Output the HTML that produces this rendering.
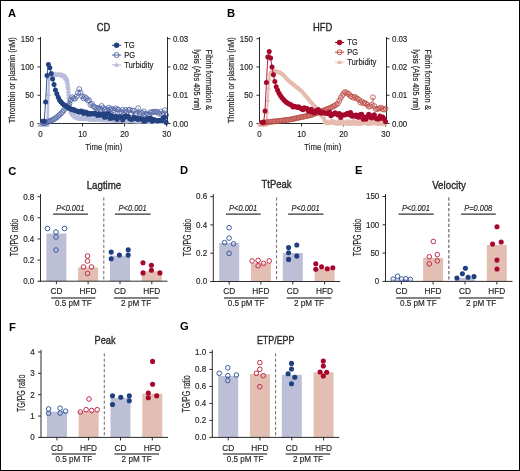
<!DOCTYPE html>
<html><head><meta charset="utf-8"><style>
html,body{margin:0;padding:0;background:#fff;}
body{width:520px;height:471px;overflow:hidden;font-family:"Liberation Sans",sans-serif;}
svg{display:block;will-change:transform;}
svg text{font-family:"Liberation Sans",sans-serif;}
</style></head><body>
<svg width="520" height="471" viewBox="0 0 520 471" font-family="Liberation Sans, sans-serif">
<rect x="0" y="0" width="520" height="471" fill="#fff"/>
<line x1="40.50" y1="37.00" x2="40.50" y2="124.00" stroke="#2b2b2b" stroke-width="1" />
<line x1="37.50" y1="123.50" x2="40.50" y2="123.50" stroke="#2b2b2b" stroke-width="1" />
<text x="34.00" y="126.70" font-size="9.48" text-anchor="end" fill="#262626" stroke="#262626" stroke-width="0.18" textLength="4.39" lengthAdjust="spacingAndGlyphs" >0</text>
<line x1="37.50" y1="95.23" x2="40.50" y2="95.23" stroke="#2b2b2b" stroke-width="1" />
<text x="34.00" y="98.43" font-size="9.48" text-anchor="end" fill="#262626" stroke="#262626" stroke-width="0.18" textLength="8.79" lengthAdjust="spacingAndGlyphs" >50</text>
<line x1="37.50" y1="66.96" x2="40.50" y2="66.96" stroke="#2b2b2b" stroke-width="1" />
<text x="34.00" y="70.16" font-size="9.48" text-anchor="end" fill="#262626" stroke="#262626" stroke-width="0.18" textLength="13.18" lengthAdjust="spacingAndGlyphs" >100</text>
<line x1="37.50" y1="38.69" x2="40.50" y2="38.69" stroke="#2b2b2b" stroke-width="1" />
<text x="34.00" y="41.89" font-size="9.48" text-anchor="end" fill="#262626" stroke="#262626" stroke-width="0.18" textLength="13.18" lengthAdjust="spacingAndGlyphs" >150</text>
<line x1="40.00" y1="123.50" x2="168.00" y2="123.50" stroke="#2b2b2b" stroke-width="1" />
<line x1="40.50" y1="123.50" x2="40.50" y2="126.50" stroke="#2b2b2b" stroke-width="1" />
<text x="40.50" y="137.20" font-size="9.48" text-anchor="middle" fill="#262626" stroke="#262626" stroke-width="0.18" textLength="4.39" lengthAdjust="spacingAndGlyphs" >0</text>
<line x1="82.55" y1="123.50" x2="82.55" y2="126.50" stroke="#2b2b2b" stroke-width="1" />
<text x="82.55" y="137.20" font-size="9.48" text-anchor="middle" fill="#262626" stroke="#262626" stroke-width="0.18" textLength="8.79" lengthAdjust="spacingAndGlyphs" >10</text>
<line x1="124.60" y1="123.50" x2="124.60" y2="126.50" stroke="#2b2b2b" stroke-width="1" />
<text x="124.60" y="137.20" font-size="9.48" text-anchor="middle" fill="#262626" stroke="#262626" stroke-width="0.18" textLength="8.79" lengthAdjust="spacingAndGlyphs" >20</text>
<line x1="166.65" y1="123.50" x2="166.65" y2="126.50" stroke="#2b2b2b" stroke-width="1" />
<text x="166.65" y="137.20" font-size="9.48" text-anchor="middle" fill="#262626" stroke="#262626" stroke-width="0.18" textLength="8.79" lengthAdjust="spacingAndGlyphs" >30</text>
<text x="103.80" y="149.90" font-size="9.90" text-anchor="middle" fill="#262626" stroke="#262626" stroke-width="0.18" textLength="37" lengthAdjust="spacingAndGlyphs" >Time (min)</text>
<line x1="167.50" y1="37.00" x2="167.50" y2="124.00" stroke="#2b2b2b" stroke-width="1" />
<line x1="167.50" y1="123.50" x2="170.50" y2="123.50" stroke="#2b2b2b" stroke-width="1" />
<text x="172.90" y="126.70" font-size="9.48" text-anchor="start" fill="#262626" stroke="#262626" stroke-width="0.18" textLength="15.38" lengthAdjust="spacingAndGlyphs" >0.00</text>
<line x1="167.50" y1="95.23" x2="170.50" y2="95.23" stroke="#2b2b2b" stroke-width="1" />
<text x="172.90" y="98.43" font-size="9.48" text-anchor="start" fill="#262626" stroke="#262626" stroke-width="0.18" textLength="15.38" lengthAdjust="spacingAndGlyphs" >0.01</text>
<line x1="167.50" y1="66.96" x2="170.50" y2="66.96" stroke="#2b2b2b" stroke-width="1" />
<text x="172.90" y="70.16" font-size="9.48" text-anchor="start" fill="#262626" stroke="#262626" stroke-width="0.18" textLength="15.38" lengthAdjust="spacingAndGlyphs" >0.02</text>
<line x1="167.50" y1="38.69" x2="170.50" y2="38.69" stroke="#2b2b2b" stroke-width="1" />
<text x="172.90" y="41.89" font-size="9.48" text-anchor="start" fill="#262626" stroke="#262626" stroke-width="0.18" textLength="15.38" lengthAdjust="spacingAndGlyphs" >0.03</text>
<text x="8.00" y="16.50" font-size="11.20" text-anchor="start" fill="#000" font-weight="bold" >A</text>
<text x="103.60" y="30.70" font-size="10.72" text-anchor="middle" fill="#262626" stroke="#262626" stroke-width="0.18" textLength="13.58" lengthAdjust="spacingAndGlyphs" style="stroke-width:0.32">CD</text>
<text x="15.20" y="80.30" font-size="9.72" text-anchor="middle" fill="#262626" stroke="#262626" stroke-width="0.18" textLength="86" lengthAdjust="spacingAndGlyphs" transform="rotate(-90 15.20 80.30)" >Thrombin or plasmin (nM)</text>
<text x="206.30" y="79.80" font-size="9.24" text-anchor="middle" fill="#262626" stroke="#262626" stroke-width="0.18" textLength="60.5" lengthAdjust="spacingAndGlyphs" transform="rotate(90 206.30 79.80)" >Fibrin formation &amp;</text>
<path d="M40.00,124.60 L40.70,124.58 L41.40,124.56 L42.10,124.54 L42.80,124.52 L43.50,124.50 L44.20,124.48 L44.91,124.46 L45.61,124.44 L46.31,124.42 L47.01,124.40 L47.71,118.00 L48.41,94.00 L49.11,77.50 L49.81,75.00 L50.51,74.80 L51.21,74.60 L51.91,74.60 L52.62,74.60 L53.32,74.60 L54.02,74.60 L54.72,74.62 L55.42,74.65 L56.12,74.67 L56.82,74.70 L57.52,74.72 L58.22,74.75 L58.92,74.77 L59.62,74.80 L60.32,74.90 L61.03,75.00 L61.73,75.10 L62.43,75.20 L63.13,75.50 L63.83,75.80 L64.53,76.20 L65.23,76.60 L65.51,76.98 L65.79,77.36 L66.07,77.74 L66.35,78.12 L66.63,78.50 L66.91,79.90 L67.19,81.30 L67.47,83.20 L67.75,85.60 L68.03,88.00 L68.31,90.80 L68.59,93.60 L68.87,96.30 L69.15,98.90 L69.43,101.50 L69.72,103.50 L70.00,105.50 L70.28,107.20 L70.56,108.60 L70.84,110.00 L71.12,110.60 L71.40,111.20 L71.68,111.80 L71.96,112.40 L72.24,113.00 L72.52,113.40 L72.80,113.80 L73.08,114.20 L73.36,114.60 L73.64,115.00 L73.92,115.30 L74.62,116.05 L75.32,116.66 L76.02,117.06 L76.72,117.35 L77.42,117.46 L78.13,117.41 L78.83,118.50 L79.53,117.63 L80.23,118.27 L80.93,118.79 L81.63,117.85 L82.33,118.47 L83.03,118.59 L83.73,117.94 L84.43,118.39 L85.13,118.83 L85.83,118.57 L86.54,118.95 L87.24,118.31 L87.94,118.45 L88.64,118.35 L89.34,118.87 L90.04,119.41 L90.74,119.06 L91.44,119.33 L92.14,118.90 L92.84,119.38 L93.54,118.66 L94.24,118.93 L94.95,119.44 L95.65,119.54 L96.35,119.22 L97.05,118.85 L97.75,119.10 L98.45,119.06 L99.15,119.18 L99.85,119.85 L100.55,119.15 L101.25,120.00 L101.95,120.03 L102.65,119.07 L103.36,119.49 L104.06,119.66 L104.76,119.13 L105.46,119.65 L106.16,120.26 L106.86,119.33 L107.56,119.95 L108.26,119.41 L108.96,119.99 L109.66,120.40 L110.36,119.61 L111.06,119.41 L111.77,119.53 L112.47,120.11 L113.17,119.51 L113.87,119.63 L114.57,120.15 L115.27,120.70 L115.97,120.13 L116.67,120.13 L117.37,120.45 L118.07,119.83 L118.77,120.45 L119.47,119.99 L120.18,120.55 L120.88,121.00 L121.58,119.95 L122.28,120.58 L122.98,120.68 L123.68,120.16 L124.38,120.33 L125.08,121.21 L125.78,121.23 L126.48,120.20 L127.18,120.91 L127.88,121.22 L128.59,120.38 L129.29,120.84 L129.99,120.18 L130.69,120.58 L131.39,120.96 L132.09,120.88 L132.79,121.12 L133.49,120.31 L134.19,120.63 L134.89,121.27 L135.59,120.95 L136.29,120.80 L137.00,120.76 L137.70,121.47 L138.40,121.00 L139.10,120.34 L139.80,121.30 L140.50,120.75 L141.20,120.89 L141.90,120.64 L142.60,120.93 L143.30,120.80 L144.00,120.53 L144.70,121.20 L145.41,120.58 L146.11,121.41 L146.81,120.52 L147.51,121.44 L148.21,121.49 L148.91,121.13 L149.61,121.40 L150.31,120.86 L151.01,121.46 L151.71,121.10 L152.41,120.88 L153.11,121.78 L153.82,121.12 L154.52,121.10 L155.22,121.70 L155.92,121.12 L156.62,121.50 L157.32,120.92 L158.02,121.74 L158.72,121.05 L159.42,120.82 L160.12,121.94 L160.82,120.99 L161.52,121.94 L162.23,122.00 L162.93,121.56 L163.63,120.86 L164.33,120.93 L165.03,121.13 L165.73,121.36" fill="none" stroke="#b8bddb" stroke-width="2.4" stroke-linejoin="round" stroke-linecap="round"/>
<path d="M40.00,121.80 L42.80,126.70 L37.20,126.70Z" fill="#b8bddb"/>
<path d="M40.70,121.78 L43.50,126.68 L37.90,126.68Z" fill="#b8bddb"/>
<path d="M41.40,121.76 L44.20,126.66 L38.60,126.66Z" fill="#b8bddb"/>
<path d="M42.10,121.74 L44.90,126.64 L39.30,126.64Z" fill="#b8bddb"/>
<path d="M42.80,121.72 L45.60,126.62 L40.00,126.62Z" fill="#b8bddb"/>
<path d="M43.50,121.70 L46.30,126.60 L40.70,126.60Z" fill="#b8bddb"/>
<path d="M44.20,121.68 L47.00,126.58 L41.41,126.58Z" fill="#b8bddb"/>
<path d="M44.91,121.66 L47.71,126.56 L42.11,126.56Z" fill="#b8bddb"/>
<path d="M45.61,121.64 L48.41,126.54 L42.81,126.54Z" fill="#b8bddb"/>
<path d="M46.31,121.62 L49.11,126.52 L43.51,126.52Z" fill="#b8bddb"/>
<path d="M47.01,121.60 L49.81,126.50 L44.21,126.50Z" fill="#b8bddb"/>
<path d="M47.71,115.20 L50.51,120.10 L44.91,120.10Z" fill="#b8bddb"/>
<path d="M48.41,91.20 L51.21,96.10 L45.61,96.10Z" fill="#b8bddb"/>
<path d="M49.11,74.70 L51.91,79.60 L46.31,79.60Z" fill="#b8bddb"/>
<path d="M49.81,72.20 L52.61,77.10 L47.01,77.10Z" fill="#b8bddb"/>
<path d="M50.51,72.00 L53.31,76.90 L47.71,76.90Z" fill="#b8bddb"/>
<path d="M51.21,71.80 L54.01,76.70 L48.41,76.70Z" fill="#b8bddb"/>
<path d="M51.91,71.80 L54.71,76.70 L49.11,76.70Z" fill="#b8bddb"/>
<path d="M52.62,71.80 L55.41,76.70 L49.82,76.70Z" fill="#b8bddb"/>
<path d="M53.32,71.80 L56.12,76.70 L50.52,76.70Z" fill="#b8bddb"/>
<path d="M54.02,71.80 L56.82,76.70 L51.22,76.70Z" fill="#b8bddb"/>
<path d="M54.72,71.83 L57.52,76.72 L51.92,76.72Z" fill="#b8bddb"/>
<path d="M55.42,71.85 L58.22,76.75 L52.62,76.75Z" fill="#b8bddb"/>
<path d="M56.12,71.88 L58.92,76.77 L53.32,76.77Z" fill="#b8bddb"/>
<path d="M56.82,71.90 L59.62,76.80 L54.02,76.80Z" fill="#b8bddb"/>
<path d="M57.52,71.92 L60.32,76.82 L54.72,76.82Z" fill="#b8bddb"/>
<path d="M58.22,71.95 L61.02,76.85 L55.42,76.85Z" fill="#b8bddb"/>
<path d="M58.92,71.97 L61.72,76.87 L56.12,76.87Z" fill="#b8bddb"/>
<path d="M59.62,72.00 L62.42,76.90 L56.82,76.90Z" fill="#b8bddb"/>
<path d="M60.32,72.10 L63.12,77.00 L57.52,77.00Z" fill="#b8bddb"/>
<path d="M61.03,72.20 L63.83,77.10 L58.23,77.10Z" fill="#b8bddb"/>
<path d="M61.73,72.30 L64.53,77.20 L58.93,77.20Z" fill="#b8bddb"/>
<path d="M62.43,72.40 L65.23,77.30 L59.63,77.30Z" fill="#b8bddb"/>
<path d="M63.13,72.70 L65.93,77.60 L60.33,77.60Z" fill="#b8bddb"/>
<path d="M63.83,73.00 L66.63,77.90 L61.03,77.90Z" fill="#b8bddb"/>
<path d="M64.53,73.40 L67.33,78.30 L61.73,78.30Z" fill="#b8bddb"/>
<path d="M65.23,73.80 L68.03,78.70 L62.43,78.70Z" fill="#b8bddb"/>
<path d="M65.51,74.18 L68.31,79.08 L62.71,79.08Z" fill="#b8bddb"/>
<path d="M65.79,74.56 L68.59,79.46 L62.99,79.46Z" fill="#b8bddb"/>
<path d="M66.07,74.94 L68.87,79.84 L63.27,79.84Z" fill="#b8bddb"/>
<path d="M66.35,75.32 L69.15,80.22 L63.55,80.22Z" fill="#b8bddb"/>
<path d="M66.63,75.70 L69.43,80.60 L63.83,80.60Z" fill="#b8bddb"/>
<path d="M66.91,77.10 L69.71,82.00 L64.11,82.00Z" fill="#b8bddb"/>
<path d="M67.19,78.50 L69.99,83.40 L64.39,83.40Z" fill="#b8bddb"/>
<path d="M67.47,80.40 L70.27,85.30 L64.67,85.30Z" fill="#b8bddb"/>
<path d="M67.75,82.80 L70.55,87.70 L64.95,87.70Z" fill="#b8bddb"/>
<path d="M68.03,85.20 L70.83,90.10 L65.23,90.10Z" fill="#b8bddb"/>
<path d="M68.31,88.00 L71.11,92.90 L65.51,92.90Z" fill="#b8bddb"/>
<path d="M68.59,90.80 L71.39,95.70 L65.79,95.70Z" fill="#b8bddb"/>
<path d="M68.87,93.50 L71.67,98.40 L66.07,98.40Z" fill="#b8bddb"/>
<path d="M69.15,96.10 L71.95,101.00 L66.35,101.00Z" fill="#b8bddb"/>
<path d="M69.43,98.70 L72.23,103.60 L66.63,103.60Z" fill="#b8bddb"/>
<path d="M69.72,100.70 L72.52,105.60 L66.92,105.60Z" fill="#b8bddb"/>
<path d="M70.00,102.70 L72.80,107.60 L67.20,107.60Z" fill="#b8bddb"/>
<path d="M70.28,104.40 L73.08,109.30 L67.48,109.30Z" fill="#b8bddb"/>
<path d="M70.56,105.80 L73.36,110.70 L67.76,110.70Z" fill="#b8bddb"/>
<path d="M70.84,107.20 L73.64,112.10 L68.04,112.10Z" fill="#b8bddb"/>
<path d="M71.12,107.80 L73.92,112.70 L68.32,112.70Z" fill="#b8bddb"/>
<path d="M71.40,108.40 L74.20,113.30 L68.60,113.30Z" fill="#b8bddb"/>
<path d="M71.68,109.00 L74.48,113.90 L68.88,113.90Z" fill="#b8bddb"/>
<path d="M71.96,109.60 L74.76,114.50 L69.16,114.50Z" fill="#b8bddb"/>
<path d="M72.24,110.20 L75.04,115.10 L69.44,115.10Z" fill="#b8bddb"/>
<path d="M72.52,110.60 L75.32,115.50 L69.72,115.50Z" fill="#b8bddb"/>
<path d="M72.80,111.00 L75.60,115.90 L70.00,115.90Z" fill="#b8bddb"/>
<path d="M73.08,111.40 L75.88,116.30 L70.28,116.30Z" fill="#b8bddb"/>
<path d="M73.36,111.80 L76.16,116.70 L70.56,116.70Z" fill="#b8bddb"/>
<path d="M73.64,112.20 L76.44,117.10 L70.84,117.10Z" fill="#b8bddb"/>
<path d="M73.92,112.50 L76.72,117.40 L71.12,117.40Z" fill="#b8bddb"/>
<path d="M74.62,113.25 L77.42,118.15 L71.82,118.15Z" fill="#b8bddb"/>
<path d="M75.32,113.86 L78.12,118.76 L72.52,118.76Z" fill="#b8bddb"/>
<path d="M76.02,114.26 L78.82,119.16 L73.22,119.16Z" fill="#b8bddb"/>
<path d="M76.72,114.55 L79.52,119.45 L73.92,119.45Z" fill="#b8bddb"/>
<path d="M77.42,114.66 L80.22,119.56 L74.62,119.56Z" fill="#b8bddb"/>
<path d="M78.13,114.61 L80.93,119.51 L75.33,119.51Z" fill="#b8bddb"/>
<path d="M78.83,115.70 L81.63,120.60 L76.03,120.60Z" fill="#b8bddb"/>
<path d="M79.53,114.83 L82.33,119.73 L76.73,119.73Z" fill="#b8bddb"/>
<path d="M80.23,115.47 L83.03,120.37 L77.43,120.37Z" fill="#b8bddb"/>
<path d="M80.93,115.99 L83.73,120.89 L78.13,120.89Z" fill="#b8bddb"/>
<path d="M81.63,115.05 L84.43,119.95 L78.83,119.95Z" fill="#b8bddb"/>
<path d="M82.33,115.67 L85.13,120.57 L79.53,120.57Z" fill="#b8bddb"/>
<path d="M83.03,115.79 L85.83,120.69 L80.23,120.69Z" fill="#b8bddb"/>
<path d="M83.73,115.14 L86.53,120.04 L80.93,120.04Z" fill="#b8bddb"/>
<path d="M84.43,115.59 L87.23,120.49 L81.63,120.49Z" fill="#b8bddb"/>
<path d="M85.13,116.03 L87.93,120.93 L82.33,120.93Z" fill="#b8bddb"/>
<path d="M85.83,115.77 L88.63,120.67 L83.03,120.67Z" fill="#b8bddb"/>
<path d="M86.54,116.15 L89.34,121.05 L83.74,121.05Z" fill="#b8bddb"/>
<path d="M87.24,115.51 L90.04,120.41 L84.44,120.41Z" fill="#b8bddb"/>
<path d="M87.94,115.65 L90.74,120.55 L85.14,120.55Z" fill="#b8bddb"/>
<path d="M88.64,115.55 L91.44,120.45 L85.84,120.45Z" fill="#b8bddb"/>
<path d="M89.34,116.07 L92.14,120.97 L86.54,120.97Z" fill="#b8bddb"/>
<path d="M90.04,116.61 L92.84,121.51 L87.24,121.51Z" fill="#b8bddb"/>
<path d="M90.74,116.26 L93.54,121.16 L87.94,121.16Z" fill="#b8bddb"/>
<path d="M91.44,116.53 L94.24,121.43 L88.64,121.43Z" fill="#b8bddb"/>
<path d="M92.14,116.10 L94.94,121.00 L89.34,121.00Z" fill="#b8bddb"/>
<path d="M92.84,116.58 L95.64,121.48 L90.04,121.48Z" fill="#b8bddb"/>
<path d="M93.54,115.86 L96.34,120.76 L90.74,120.76Z" fill="#b8bddb"/>
<path d="M94.24,116.13 L97.04,121.03 L91.44,121.03Z" fill="#b8bddb"/>
<path d="M94.95,116.64 L97.75,121.54 L92.15,121.54Z" fill="#b8bddb"/>
<path d="M95.65,116.74 L98.45,121.64 L92.85,121.64Z" fill="#b8bddb"/>
<path d="M96.35,116.42 L99.15,121.32 L93.55,121.32Z" fill="#b8bddb"/>
<path d="M97.05,116.05 L99.85,120.95 L94.25,120.95Z" fill="#b8bddb"/>
<path d="M97.75,116.30 L100.55,121.20 L94.95,121.20Z" fill="#b8bddb"/>
<path d="M98.45,116.26 L101.25,121.16 L95.65,121.16Z" fill="#b8bddb"/>
<path d="M99.15,116.38 L101.95,121.28 L96.35,121.28Z" fill="#b8bddb"/>
<path d="M99.85,117.05 L102.65,121.95 L97.05,121.95Z" fill="#b8bddb"/>
<path d="M100.55,116.35 L103.35,121.25 L97.75,121.25Z" fill="#b8bddb"/>
<path d="M101.25,117.20 L104.05,122.10 L98.45,122.10Z" fill="#b8bddb"/>
<path d="M101.95,117.23 L104.75,122.13 L99.15,122.13Z" fill="#b8bddb"/>
<path d="M102.65,116.27 L105.45,121.17 L99.85,121.17Z" fill="#b8bddb"/>
<path d="M103.36,116.69 L106.16,121.59 L100.56,121.59Z" fill="#b8bddb"/>
<path d="M104.06,116.86 L106.86,121.76 L101.26,121.76Z" fill="#b8bddb"/>
<path d="M104.76,116.33 L107.56,121.23 L101.96,121.23Z" fill="#b8bddb"/>
<path d="M105.46,116.85 L108.26,121.75 L102.66,121.75Z" fill="#b8bddb"/>
<path d="M106.16,117.46 L108.96,122.36 L103.36,122.36Z" fill="#b8bddb"/>
<path d="M106.86,116.53 L109.66,121.43 L104.06,121.43Z" fill="#b8bddb"/>
<path d="M107.56,117.15 L110.36,122.05 L104.76,122.05Z" fill="#b8bddb"/>
<path d="M108.26,116.61 L111.06,121.51 L105.46,121.51Z" fill="#b8bddb"/>
<path d="M108.96,117.19 L111.76,122.09 L106.16,122.09Z" fill="#b8bddb"/>
<path d="M109.66,117.60 L112.46,122.50 L106.86,122.50Z" fill="#b8bddb"/>
<path d="M110.36,116.81 L113.16,121.71 L107.56,121.71Z" fill="#b8bddb"/>
<path d="M111.06,116.61 L113.86,121.51 L108.26,121.51Z" fill="#b8bddb"/>
<path d="M111.77,116.73 L114.57,121.63 L108.97,121.63Z" fill="#b8bddb"/>
<path d="M112.47,117.31 L115.27,122.21 L109.67,122.21Z" fill="#b8bddb"/>
<path d="M113.17,116.71 L115.97,121.61 L110.37,121.61Z" fill="#b8bddb"/>
<path d="M113.87,116.83 L116.67,121.73 L111.07,121.73Z" fill="#b8bddb"/>
<path d="M114.57,117.35 L117.37,122.25 L111.77,122.25Z" fill="#b8bddb"/>
<path d="M115.27,117.90 L118.07,122.80 L112.47,122.80Z" fill="#b8bddb"/>
<path d="M115.97,117.33 L118.77,122.23 L113.17,122.23Z" fill="#b8bddb"/>
<path d="M116.67,117.33 L119.47,122.23 L113.87,122.23Z" fill="#b8bddb"/>
<path d="M117.37,117.65 L120.17,122.55 L114.57,122.55Z" fill="#b8bddb"/>
<path d="M118.07,117.03 L120.87,121.93 L115.27,121.93Z" fill="#b8bddb"/>
<path d="M118.77,117.65 L121.57,122.55 L115.97,122.55Z" fill="#b8bddb"/>
<path d="M119.47,117.19 L122.27,122.09 L116.67,122.09Z" fill="#b8bddb"/>
<path d="M120.18,117.75 L122.98,122.65 L117.38,122.65Z" fill="#b8bddb"/>
<path d="M120.88,118.20 L123.68,123.10 L118.08,123.10Z" fill="#b8bddb"/>
<path d="M121.58,117.15 L124.38,122.05 L118.78,122.05Z" fill="#b8bddb"/>
<path d="M122.28,117.78 L125.08,122.68 L119.48,122.68Z" fill="#b8bddb"/>
<path d="M122.98,117.88 L125.78,122.78 L120.18,122.78Z" fill="#b8bddb"/>
<path d="M123.68,117.36 L126.48,122.26 L120.88,122.26Z" fill="#b8bddb"/>
<path d="M124.38,117.53 L127.18,122.43 L121.58,122.43Z" fill="#b8bddb"/>
<path d="M125.08,118.41 L127.88,123.31 L122.28,123.31Z" fill="#b8bddb"/>
<path d="M125.78,118.43 L128.58,123.33 L122.98,123.33Z" fill="#b8bddb"/>
<path d="M126.48,117.40 L129.28,122.30 L123.68,122.30Z" fill="#b8bddb"/>
<path d="M127.18,118.11 L129.98,123.01 L124.38,123.01Z" fill="#b8bddb"/>
<path d="M127.88,118.42 L130.68,123.32 L125.08,123.32Z" fill="#b8bddb"/>
<path d="M128.59,117.58 L131.39,122.48 L125.79,122.48Z" fill="#b8bddb"/>
<path d="M129.29,118.04 L132.09,122.94 L126.49,122.94Z" fill="#b8bddb"/>
<path d="M129.99,117.38 L132.79,122.28 L127.19,122.28Z" fill="#b8bddb"/>
<path d="M130.69,117.78 L133.49,122.68 L127.89,122.68Z" fill="#b8bddb"/>
<path d="M131.39,118.16 L134.19,123.06 L128.59,123.06Z" fill="#b8bddb"/>
<path d="M132.09,118.08 L134.89,122.98 L129.29,122.98Z" fill="#b8bddb"/>
<path d="M132.79,118.32 L135.59,123.22 L129.99,123.22Z" fill="#b8bddb"/>
<path d="M133.49,117.51 L136.29,122.41 L130.69,122.41Z" fill="#b8bddb"/>
<path d="M134.19,117.83 L136.99,122.73 L131.39,122.73Z" fill="#b8bddb"/>
<path d="M134.89,118.47 L137.69,123.37 L132.09,123.37Z" fill="#b8bddb"/>
<path d="M135.59,118.15 L138.39,123.05 L132.79,123.05Z" fill="#b8bddb"/>
<path d="M136.29,118.00 L139.09,122.90 L133.49,122.90Z" fill="#b8bddb"/>
<path d="M137.00,117.96 L139.80,122.86 L134.20,122.86Z" fill="#b8bddb"/>
<path d="M137.70,118.67 L140.50,123.57 L134.90,123.57Z" fill="#b8bddb"/>
<path d="M138.40,118.20 L141.20,123.10 L135.60,123.10Z" fill="#b8bddb"/>
<path d="M139.10,117.54 L141.90,122.44 L136.30,122.44Z" fill="#b8bddb"/>
<path d="M139.80,118.50 L142.60,123.40 L137.00,123.40Z" fill="#b8bddb"/>
<path d="M140.50,117.95 L143.30,122.85 L137.70,122.85Z" fill="#b8bddb"/>
<path d="M141.20,118.09 L144.00,122.99 L138.40,122.99Z" fill="#b8bddb"/>
<path d="M141.90,117.84 L144.70,122.74 L139.10,122.74Z" fill="#b8bddb"/>
<path d="M142.60,118.13 L145.40,123.03 L139.80,123.03Z" fill="#b8bddb"/>
<path d="M143.30,118.00 L146.10,122.90 L140.50,122.90Z" fill="#b8bddb"/>
<path d="M144.00,117.73 L146.80,122.63 L141.20,122.63Z" fill="#b8bddb"/>
<path d="M144.70,118.40 L147.50,123.30 L141.90,123.30Z" fill="#b8bddb"/>
<path d="M145.41,117.78 L148.21,122.68 L142.61,122.68Z" fill="#b8bddb"/>
<path d="M146.11,118.61 L148.91,123.51 L143.31,123.51Z" fill="#b8bddb"/>
<path d="M146.81,117.72 L149.61,122.62 L144.01,122.62Z" fill="#b8bddb"/>
<path d="M147.51,118.64 L150.31,123.54 L144.71,123.54Z" fill="#b8bddb"/>
<path d="M148.21,118.69 L151.01,123.59 L145.41,123.59Z" fill="#b8bddb"/>
<path d="M148.91,118.33 L151.71,123.23 L146.11,123.23Z" fill="#b8bddb"/>
<path d="M149.61,118.60 L152.41,123.50 L146.81,123.50Z" fill="#b8bddb"/>
<path d="M150.31,118.06 L153.11,122.96 L147.51,122.96Z" fill="#b8bddb"/>
<path d="M151.01,118.66 L153.81,123.56 L148.21,123.56Z" fill="#b8bddb"/>
<path d="M151.71,118.30 L154.51,123.20 L148.91,123.20Z" fill="#b8bddb"/>
<path d="M152.41,118.08 L155.21,122.98 L149.61,122.98Z" fill="#b8bddb"/>
<path d="M153.11,118.98 L155.91,123.88 L150.31,123.88Z" fill="#b8bddb"/>
<path d="M153.82,118.32 L156.62,123.22 L151.02,123.22Z" fill="#b8bddb"/>
<path d="M154.52,118.30 L157.32,123.20 L151.72,123.20Z" fill="#b8bddb"/>
<path d="M155.22,118.90 L158.02,123.80 L152.42,123.80Z" fill="#b8bddb"/>
<path d="M155.92,118.32 L158.72,123.22 L153.12,123.22Z" fill="#b8bddb"/>
<path d="M156.62,118.70 L159.42,123.60 L153.82,123.60Z" fill="#b8bddb"/>
<path d="M157.32,118.12 L160.12,123.02 L154.52,123.02Z" fill="#b8bddb"/>
<path d="M158.02,118.94 L160.82,123.84 L155.22,123.84Z" fill="#b8bddb"/>
<path d="M158.72,118.25 L161.52,123.15 L155.92,123.15Z" fill="#b8bddb"/>
<path d="M159.42,118.02 L162.22,122.92 L156.62,122.92Z" fill="#b8bddb"/>
<path d="M160.12,119.14 L162.92,124.04 L157.32,124.04Z" fill="#b8bddb"/>
<path d="M160.82,118.19 L163.62,123.09 L158.02,123.09Z" fill="#b8bddb"/>
<path d="M161.52,119.14 L164.32,124.04 L158.72,124.04Z" fill="#b8bddb"/>
<path d="M162.23,119.20 L165.03,124.10 L159.43,124.10Z" fill="#b8bddb"/>
<path d="M162.93,118.76 L165.73,123.66 L160.13,123.66Z" fill="#b8bddb"/>
<path d="M163.63,118.06 L166.43,122.96 L160.83,122.96Z" fill="#b8bddb"/>
<path d="M164.33,118.13 L167.13,123.03 L161.53,123.03Z" fill="#b8bddb"/>
<path d="M165.03,118.33 L167.83,123.23 L162.23,123.23Z" fill="#b8bddb"/>
<path d="M165.73,118.56 L168.53,123.46 L162.93,123.46Z" fill="#b8bddb"/>
<path d="M42.80,123.23 L44.20,123.20 L45.61,122.80 L47.01,122.30 L48.41,121.80 L49.81,121.20 L51.21,120.60 L52.62,119.90 L54.02,119.20 L55.42,118.25 L56.82,117.30 L58.22,116.05 L59.62,114.80 L61.03,113.40 L62.43,112.00 L63.83,110.30 L65.23,108.60 L66.63,107.00 L68.03,105.50 L69.44,103.50 L70.84,100.00 L72.24,97.20 L73.64,98.40 L75.04,98.60 L76.44,96.50 L77.84,92.90 L79.25,89.10 L80.65,92.70 L82.05,96.30 L83.45,98.50 L84.85,97.00 L86.25,98.20 L87.66,100.40 L89.06,100.20 L90.46,104.80 L91.86,103.80 L93.26,106.27 L94.66,107.12 L96.07,107.72 L97.47,108.56 L98.87,108.07 L100.27,109.04 L101.67,105.93 L103.07,107.87 L104.48,109.96 L105.88,109.13 L107.28,110.36 L108.68,107.65 L110.08,109.28 L111.48,108.64 L112.89,109.97 L114.29,110.28 L115.69,108.35 L117.09,109.32 L118.49,109.72 L119.89,112.30 L121.30,111.89 L122.70,109.75 L124.10,112.33 L125.50,109.93 L126.90,111.85 L128.31,110.08 L129.71,109.71 L131.11,113.11 L132.51,110.70 L133.91,110.82 L135.31,113.83 L136.71,113.52 L138.12,108.20 L139.52,114.03 L140.92,112.51 L142.32,113.12 L143.72,111.40 L145.12,114.28 L146.53,113.40 L147.93,114.53 L149.33,114.34 L150.73,112.16 L152.13,112.47 L153.54,111.81 L154.94,111.81 L156.34,111.59 L157.74,112.57 L159.14,113.79 L160.54,111.59 L161.94,114.24 L163.35,113.02 L164.75,110.20 L166.15,115.01" fill="none" stroke="#5064a3" stroke-width="0.5"/>
<circle cx="42.80" cy="123.23" r="2.45" fill="none" stroke="#5064a3" stroke-width="0.8"/>
<circle cx="44.20" cy="123.20" r="2.45" fill="none" stroke="#5064a3" stroke-width="0.8"/>
<circle cx="45.61" cy="122.80" r="2.45" fill="none" stroke="#5064a3" stroke-width="0.8"/>
<circle cx="47.01" cy="122.30" r="2.45" fill="none" stroke="#5064a3" stroke-width="0.8"/>
<circle cx="48.41" cy="121.80" r="2.45" fill="none" stroke="#5064a3" stroke-width="0.8"/>
<circle cx="49.81" cy="121.20" r="2.45" fill="none" stroke="#5064a3" stroke-width="0.8"/>
<circle cx="51.21" cy="120.60" r="2.45" fill="none" stroke="#5064a3" stroke-width="0.8"/>
<circle cx="52.62" cy="119.90" r="2.45" fill="none" stroke="#5064a3" stroke-width="0.8"/>
<circle cx="54.02" cy="119.20" r="2.45" fill="none" stroke="#5064a3" stroke-width="0.8"/>
<circle cx="55.42" cy="118.25" r="2.45" fill="none" stroke="#5064a3" stroke-width="0.8"/>
<circle cx="56.82" cy="117.30" r="2.45" fill="none" stroke="#5064a3" stroke-width="0.8"/>
<circle cx="58.22" cy="116.05" r="2.45" fill="none" stroke="#5064a3" stroke-width="0.8"/>
<circle cx="59.62" cy="114.80" r="2.45" fill="none" stroke="#5064a3" stroke-width="0.8"/>
<circle cx="61.03" cy="113.40" r="2.45" fill="none" stroke="#5064a3" stroke-width="0.8"/>
<circle cx="62.43" cy="112.00" r="2.45" fill="none" stroke="#5064a3" stroke-width="0.8"/>
<circle cx="63.83" cy="110.30" r="2.45" fill="none" stroke="#5064a3" stroke-width="0.8"/>
<circle cx="65.23" cy="108.60" r="2.45" fill="none" stroke="#5064a3" stroke-width="0.8"/>
<circle cx="66.63" cy="107.00" r="2.45" fill="none" stroke="#5064a3" stroke-width="0.8"/>
<circle cx="68.03" cy="105.50" r="2.45" fill="none" stroke="#5064a3" stroke-width="0.8"/>
<circle cx="69.44" cy="103.50" r="2.45" fill="none" stroke="#5064a3" stroke-width="0.8"/>
<circle cx="70.84" cy="100.00" r="2.45" fill="none" stroke="#5064a3" stroke-width="0.8"/>
<circle cx="72.24" cy="97.20" r="2.45" fill="none" stroke="#5064a3" stroke-width="0.8"/>
<circle cx="73.64" cy="98.40" r="2.45" fill="none" stroke="#5064a3" stroke-width="0.8"/>
<circle cx="75.04" cy="98.60" r="2.45" fill="none" stroke="#5064a3" stroke-width="0.8"/>
<circle cx="76.44" cy="96.50" r="2.45" fill="none" stroke="#5064a3" stroke-width="0.8"/>
<circle cx="77.84" cy="92.90" r="2.45" fill="none" stroke="#5064a3" stroke-width="0.8"/>
<circle cx="79.25" cy="89.10" r="2.45" fill="none" stroke="#5064a3" stroke-width="0.8"/>
<circle cx="80.65" cy="92.70" r="2.45" fill="none" stroke="#5064a3" stroke-width="0.8"/>
<circle cx="82.05" cy="96.30" r="2.45" fill="none" stroke="#5064a3" stroke-width="0.8"/>
<circle cx="83.45" cy="98.50" r="2.45" fill="none" stroke="#5064a3" stroke-width="0.8"/>
<circle cx="84.85" cy="97.00" r="2.45" fill="none" stroke="#5064a3" stroke-width="0.8"/>
<circle cx="86.25" cy="98.20" r="2.45" fill="none" stroke="#5064a3" stroke-width="0.8"/>
<circle cx="87.66" cy="100.40" r="2.45" fill="none" stroke="#5064a3" stroke-width="0.8"/>
<circle cx="89.06" cy="100.20" r="2.45" fill="none" stroke="#5064a3" stroke-width="0.8"/>
<circle cx="90.46" cy="104.80" r="2.45" fill="none" stroke="#5064a3" stroke-width="0.8"/>
<circle cx="91.86" cy="103.80" r="2.45" fill="none" stroke="#5064a3" stroke-width="0.8"/>
<circle cx="93.26" cy="106.27" r="2.45" fill="none" stroke="#5064a3" stroke-width="0.8"/>
<circle cx="94.66" cy="107.12" r="2.45" fill="none" stroke="#5064a3" stroke-width="0.8"/>
<circle cx="96.07" cy="107.72" r="2.45" fill="none" stroke="#5064a3" stroke-width="0.8"/>
<circle cx="97.47" cy="108.56" r="2.45" fill="none" stroke="#5064a3" stroke-width="0.8"/>
<circle cx="98.87" cy="108.07" r="2.45" fill="none" stroke="#5064a3" stroke-width="0.8"/>
<circle cx="100.27" cy="109.04" r="2.45" fill="none" stroke="#5064a3" stroke-width="0.8"/>
<circle cx="101.67" cy="105.93" r="2.45" fill="none" stroke="#5064a3" stroke-width="0.8"/>
<circle cx="103.07" cy="107.87" r="2.45" fill="none" stroke="#5064a3" stroke-width="0.8"/>
<circle cx="104.48" cy="109.96" r="2.45" fill="none" stroke="#5064a3" stroke-width="0.8"/>
<circle cx="105.88" cy="109.13" r="2.45" fill="none" stroke="#5064a3" stroke-width="0.8"/>
<circle cx="107.28" cy="110.36" r="2.45" fill="none" stroke="#5064a3" stroke-width="0.8"/>
<circle cx="108.68" cy="107.65" r="2.45" fill="none" stroke="#5064a3" stroke-width="0.8"/>
<circle cx="110.08" cy="109.28" r="2.45" fill="none" stroke="#5064a3" stroke-width="0.8"/>
<circle cx="111.48" cy="108.64" r="2.45" fill="none" stroke="#5064a3" stroke-width="0.8"/>
<circle cx="112.89" cy="109.97" r="2.45" fill="none" stroke="#5064a3" stroke-width="0.8"/>
<circle cx="114.29" cy="110.28" r="2.45" fill="none" stroke="#5064a3" stroke-width="0.8"/>
<circle cx="115.69" cy="108.35" r="2.45" fill="none" stroke="#5064a3" stroke-width="0.8"/>
<circle cx="117.09" cy="109.32" r="2.45" fill="none" stroke="#5064a3" stroke-width="0.8"/>
<circle cx="118.49" cy="109.72" r="2.45" fill="none" stroke="#5064a3" stroke-width="0.8"/>
<circle cx="119.89" cy="112.30" r="2.45" fill="none" stroke="#5064a3" stroke-width="0.8"/>
<circle cx="121.30" cy="111.89" r="2.45" fill="none" stroke="#5064a3" stroke-width="0.8"/>
<circle cx="122.70" cy="109.75" r="2.45" fill="none" stroke="#5064a3" stroke-width="0.8"/>
<circle cx="124.10" cy="112.33" r="2.45" fill="none" stroke="#5064a3" stroke-width="0.8"/>
<circle cx="125.50" cy="109.93" r="2.45" fill="none" stroke="#5064a3" stroke-width="0.8"/>
<circle cx="126.90" cy="111.85" r="2.45" fill="none" stroke="#5064a3" stroke-width="0.8"/>
<circle cx="128.31" cy="110.08" r="2.45" fill="none" stroke="#5064a3" stroke-width="0.8"/>
<circle cx="129.71" cy="109.71" r="2.45" fill="none" stroke="#5064a3" stroke-width="0.8"/>
<circle cx="131.11" cy="113.11" r="2.45" fill="none" stroke="#5064a3" stroke-width="0.8"/>
<circle cx="132.51" cy="110.70" r="2.45" fill="none" stroke="#5064a3" stroke-width="0.8"/>
<circle cx="133.91" cy="110.82" r="2.45" fill="none" stroke="#5064a3" stroke-width="0.8"/>
<circle cx="135.31" cy="113.83" r="2.45" fill="none" stroke="#5064a3" stroke-width="0.8"/>
<circle cx="136.71" cy="113.52" r="2.45" fill="none" stroke="#5064a3" stroke-width="0.8"/>
<circle cx="138.12" cy="108.20" r="2.45" fill="none" stroke="#5064a3" stroke-width="0.8"/>
<circle cx="139.52" cy="114.03" r="2.45" fill="none" stroke="#5064a3" stroke-width="0.8"/>
<circle cx="140.92" cy="112.51" r="2.45" fill="none" stroke="#5064a3" stroke-width="0.8"/>
<circle cx="142.32" cy="113.12" r="2.45" fill="none" stroke="#5064a3" stroke-width="0.8"/>
<circle cx="143.72" cy="111.40" r="2.45" fill="none" stroke="#5064a3" stroke-width="0.8"/>
<circle cx="145.12" cy="114.28" r="2.45" fill="none" stroke="#5064a3" stroke-width="0.8"/>
<circle cx="146.53" cy="113.40" r="2.45" fill="none" stroke="#5064a3" stroke-width="0.8"/>
<circle cx="147.93" cy="114.53" r="2.45" fill="none" stroke="#5064a3" stroke-width="0.8"/>
<circle cx="149.33" cy="114.34" r="2.45" fill="none" stroke="#5064a3" stroke-width="0.8"/>
<circle cx="150.73" cy="112.16" r="2.45" fill="none" stroke="#5064a3" stroke-width="0.8"/>
<circle cx="152.13" cy="112.47" r="2.45" fill="none" stroke="#5064a3" stroke-width="0.8"/>
<circle cx="153.54" cy="111.81" r="2.45" fill="none" stroke="#5064a3" stroke-width="0.8"/>
<circle cx="154.94" cy="111.81" r="2.45" fill="none" stroke="#5064a3" stroke-width="0.8"/>
<circle cx="156.34" cy="111.59" r="2.45" fill="none" stroke="#5064a3" stroke-width="0.8"/>
<circle cx="157.74" cy="112.57" r="2.45" fill="none" stroke="#5064a3" stroke-width="0.8"/>
<circle cx="159.14" cy="113.79" r="2.45" fill="none" stroke="#5064a3" stroke-width="0.8"/>
<circle cx="160.54" cy="111.59" r="2.45" fill="none" stroke="#5064a3" stroke-width="0.8"/>
<circle cx="161.94" cy="114.24" r="2.45" fill="none" stroke="#5064a3" stroke-width="0.8"/>
<circle cx="163.35" cy="113.02" r="2.45" fill="none" stroke="#5064a3" stroke-width="0.8"/>
<circle cx="164.75" cy="110.20" r="2.45" fill="none" stroke="#5064a3" stroke-width="0.8"/>
<circle cx="166.15" cy="115.01" r="2.45" fill="none" stroke="#5064a3" stroke-width="0.8"/>
<path d="M42.80,121.30 L44.20,121.20 L45.61,102.00 L47.01,75.60 L48.41,64.50 L49.81,67.80 L51.21,73.60 L52.62,79.10 L54.02,84.60 L55.42,90.00 L56.82,93.80 L58.22,97.20 L59.62,100.30 L61.03,102.00 L62.43,103.50 L63.83,104.80 L65.23,105.70 L66.63,106.60 L68.03,107.60 L69.44,108.40 L70.84,109.10 L72.24,109.70 L73.64,109.62 L75.04,110.81 L76.44,110.76 L77.84,111.77 L79.25,112.13 L80.65,110.97 L82.05,111.13 L83.45,113.44 L84.85,112.11 L86.25,112.21 L87.66,114.36 L89.06,113.16 L90.46,114.27 L91.86,113.47 L93.26,114.03 L94.66,112.89 L96.07,114.07 L97.47,115.62 L98.87,113.66 L100.27,115.13 L101.67,114.48 L103.07,113.81 L104.48,117.30 L105.88,116.92 L107.28,113.73 L108.68,113.79 L110.08,118.39 L111.48,115.29 L112.89,118.04 L114.29,117.12 L115.69,115.95 L117.09,119.55 L118.49,117.35 L119.89,116.72 L121.30,117.19 L122.70,119.91 L124.10,117.39 L125.50,115.87 L126.90,116.68 L128.31,116.38 L129.71,118.73 L131.11,119.43 L132.51,119.00 L133.91,117.18 L135.31,118.54 L136.71,118.40 L138.12,119.58 L139.52,118.22 L140.92,118.93 L142.32,118.71 L143.72,120.86 L145.12,121.22 L146.53,119.12 L147.93,119.81 L149.33,118.14 L150.73,118.34 L152.13,121.15 L153.54,119.50 L154.94,119.95 L156.34,120.42 L157.74,120.90 L159.14,120.52 L160.54,120.30 L161.94,120.42 L163.35,117.80 L164.75,117.35 L166.15,122.50" fill="none" stroke="#23427f" stroke-width="0.9"/>
<circle cx="42.80" cy="121.30" r="2.5" fill="#23427f"/>
<circle cx="44.20" cy="121.20" r="2.5" fill="#23427f"/>
<circle cx="45.61" cy="102.00" r="2.5" fill="#23427f"/>
<circle cx="47.01" cy="75.60" r="2.5" fill="#23427f"/>
<circle cx="48.41" cy="64.50" r="2.5" fill="#23427f"/>
<circle cx="49.81" cy="67.80" r="2.5" fill="#23427f"/>
<circle cx="51.21" cy="73.60" r="2.5" fill="#23427f"/>
<circle cx="52.62" cy="79.10" r="2.5" fill="#23427f"/>
<circle cx="54.02" cy="84.60" r="2.5" fill="#23427f"/>
<circle cx="55.42" cy="90.00" r="2.5" fill="#23427f"/>
<circle cx="56.82" cy="93.80" r="2.5" fill="#23427f"/>
<circle cx="58.22" cy="97.20" r="2.5" fill="#23427f"/>
<circle cx="59.62" cy="100.30" r="2.5" fill="#23427f"/>
<circle cx="61.03" cy="102.00" r="2.5" fill="#23427f"/>
<circle cx="62.43" cy="103.50" r="2.5" fill="#23427f"/>
<circle cx="63.83" cy="104.80" r="2.5" fill="#23427f"/>
<circle cx="65.23" cy="105.70" r="2.5" fill="#23427f"/>
<circle cx="66.63" cy="106.60" r="2.5" fill="#23427f"/>
<circle cx="68.03" cy="107.60" r="2.5" fill="#23427f"/>
<circle cx="69.44" cy="108.40" r="2.5" fill="#23427f"/>
<circle cx="70.84" cy="109.10" r="2.5" fill="#23427f"/>
<circle cx="72.24" cy="109.70" r="2.5" fill="#23427f"/>
<circle cx="73.64" cy="109.62" r="2.5" fill="#23427f"/>
<circle cx="75.04" cy="110.81" r="2.5" fill="#23427f"/>
<circle cx="76.44" cy="110.76" r="2.5" fill="#23427f"/>
<circle cx="77.84" cy="111.77" r="2.5" fill="#23427f"/>
<circle cx="79.25" cy="112.13" r="2.5" fill="#23427f"/>
<circle cx="80.65" cy="110.97" r="2.5" fill="#23427f"/>
<circle cx="82.05" cy="111.13" r="2.5" fill="#23427f"/>
<circle cx="83.45" cy="113.44" r="2.5" fill="#23427f"/>
<circle cx="84.85" cy="112.11" r="2.5" fill="#23427f"/>
<circle cx="86.25" cy="112.21" r="2.5" fill="#23427f"/>
<circle cx="87.66" cy="114.36" r="2.5" fill="#23427f"/>
<circle cx="89.06" cy="113.16" r="2.5" fill="#23427f"/>
<circle cx="90.46" cy="114.27" r="2.5" fill="#23427f"/>
<circle cx="91.86" cy="113.47" r="2.5" fill="#23427f"/>
<circle cx="93.26" cy="114.03" r="2.5" fill="#23427f"/>
<circle cx="94.66" cy="112.89" r="2.5" fill="#23427f"/>
<circle cx="96.07" cy="114.07" r="2.5" fill="#23427f"/>
<circle cx="97.47" cy="115.62" r="2.5" fill="#23427f"/>
<circle cx="98.87" cy="113.66" r="2.5" fill="#23427f"/>
<circle cx="100.27" cy="115.13" r="2.5" fill="#23427f"/>
<circle cx="101.67" cy="114.48" r="2.5" fill="#23427f"/>
<circle cx="103.07" cy="113.81" r="2.5" fill="#23427f"/>
<circle cx="104.48" cy="117.30" r="2.5" fill="#23427f"/>
<circle cx="105.88" cy="116.92" r="2.5" fill="#23427f"/>
<circle cx="107.28" cy="113.73" r="2.5" fill="#23427f"/>
<circle cx="108.68" cy="113.79" r="2.5" fill="#23427f"/>
<circle cx="110.08" cy="118.39" r="2.5" fill="#23427f"/>
<circle cx="111.48" cy="115.29" r="2.5" fill="#23427f"/>
<circle cx="112.89" cy="118.04" r="2.5" fill="#23427f"/>
<circle cx="114.29" cy="117.12" r="2.5" fill="#23427f"/>
<circle cx="115.69" cy="115.95" r="2.5" fill="#23427f"/>
<circle cx="117.09" cy="119.55" r="2.5" fill="#23427f"/>
<circle cx="118.49" cy="117.35" r="2.5" fill="#23427f"/>
<circle cx="119.89" cy="116.72" r="2.5" fill="#23427f"/>
<circle cx="121.30" cy="117.19" r="2.5" fill="#23427f"/>
<circle cx="122.70" cy="119.91" r="2.5" fill="#23427f"/>
<circle cx="124.10" cy="117.39" r="2.5" fill="#23427f"/>
<circle cx="125.50" cy="115.87" r="2.5" fill="#23427f"/>
<circle cx="126.90" cy="116.68" r="2.5" fill="#23427f"/>
<circle cx="128.31" cy="116.38" r="2.5" fill="#23427f"/>
<circle cx="129.71" cy="118.73" r="2.5" fill="#23427f"/>
<circle cx="131.11" cy="119.43" r="2.5" fill="#23427f"/>
<circle cx="132.51" cy="119.00" r="2.5" fill="#23427f"/>
<circle cx="133.91" cy="117.18" r="2.5" fill="#23427f"/>
<circle cx="135.31" cy="118.54" r="2.5" fill="#23427f"/>
<circle cx="136.71" cy="118.40" r="2.5" fill="#23427f"/>
<circle cx="138.12" cy="119.58" r="2.5" fill="#23427f"/>
<circle cx="139.52" cy="118.22" r="2.5" fill="#23427f"/>
<circle cx="140.92" cy="118.93" r="2.5" fill="#23427f"/>
<circle cx="142.32" cy="118.71" r="2.5" fill="#23427f"/>
<circle cx="143.72" cy="120.86" r="2.5" fill="#23427f"/>
<circle cx="145.12" cy="121.22" r="2.5" fill="#23427f"/>
<circle cx="146.53" cy="119.12" r="2.5" fill="#23427f"/>
<circle cx="147.93" cy="119.81" r="2.5" fill="#23427f"/>
<circle cx="149.33" cy="118.14" r="2.5" fill="#23427f"/>
<circle cx="150.73" cy="118.34" r="2.5" fill="#23427f"/>
<circle cx="152.13" cy="121.15" r="2.5" fill="#23427f"/>
<circle cx="153.54" cy="119.50" r="2.5" fill="#23427f"/>
<circle cx="154.94" cy="119.95" r="2.5" fill="#23427f"/>
<circle cx="156.34" cy="120.42" r="2.5" fill="#23427f"/>
<circle cx="157.74" cy="120.90" r="2.5" fill="#23427f"/>
<circle cx="159.14" cy="120.52" r="2.5" fill="#23427f"/>
<circle cx="160.54" cy="120.30" r="2.5" fill="#23427f"/>
<circle cx="161.94" cy="120.42" r="2.5" fill="#23427f"/>
<circle cx="163.35" cy="117.80" r="2.5" fill="#23427f"/>
<circle cx="164.75" cy="117.35" r="2.5" fill="#23427f"/>
<circle cx="166.15" cy="122.50" r="2.5" fill="#23427f"/>
<line x1="259.50" y1="37.00" x2="259.50" y2="124.00" stroke="#2b2b2b" stroke-width="1" />
<line x1="256.50" y1="123.50" x2="259.50" y2="123.50" stroke="#2b2b2b" stroke-width="1" />
<text x="253.00" y="126.70" font-size="9.48" text-anchor="end" fill="#262626" stroke="#262626" stroke-width="0.18" textLength="4.39" lengthAdjust="spacingAndGlyphs" >0</text>
<line x1="256.50" y1="95.23" x2="259.50" y2="95.23" stroke="#2b2b2b" stroke-width="1" />
<text x="253.00" y="98.43" font-size="9.48" text-anchor="end" fill="#262626" stroke="#262626" stroke-width="0.18" textLength="8.79" lengthAdjust="spacingAndGlyphs" >50</text>
<line x1="256.50" y1="66.96" x2="259.50" y2="66.96" stroke="#2b2b2b" stroke-width="1" />
<text x="253.00" y="70.16" font-size="9.48" text-anchor="end" fill="#262626" stroke="#262626" stroke-width="0.18" textLength="13.18" lengthAdjust="spacingAndGlyphs" >100</text>
<line x1="256.50" y1="38.69" x2="259.50" y2="38.69" stroke="#2b2b2b" stroke-width="1" />
<text x="253.00" y="41.89" font-size="9.48" text-anchor="end" fill="#262626" stroke="#262626" stroke-width="0.18" textLength="13.18" lengthAdjust="spacingAndGlyphs" >150</text>
<line x1="259.00" y1="123.50" x2="387.00" y2="123.50" stroke="#2b2b2b" stroke-width="1" />
<line x1="259.50" y1="123.50" x2="259.50" y2="126.50" stroke="#2b2b2b" stroke-width="1" />
<text x="259.50" y="137.20" font-size="9.48" text-anchor="middle" fill="#262626" stroke="#262626" stroke-width="0.18" textLength="4.39" lengthAdjust="spacingAndGlyphs" >0</text>
<line x1="301.55" y1="123.50" x2="301.55" y2="126.50" stroke="#2b2b2b" stroke-width="1" />
<text x="301.55" y="137.20" font-size="9.48" text-anchor="middle" fill="#262626" stroke="#262626" stroke-width="0.18" textLength="8.79" lengthAdjust="spacingAndGlyphs" >10</text>
<line x1="343.60" y1="123.50" x2="343.60" y2="126.50" stroke="#2b2b2b" stroke-width="1" />
<text x="343.60" y="137.20" font-size="9.48" text-anchor="middle" fill="#262626" stroke="#262626" stroke-width="0.18" textLength="8.79" lengthAdjust="spacingAndGlyphs" >20</text>
<line x1="385.65" y1="123.50" x2="385.65" y2="126.50" stroke="#2b2b2b" stroke-width="1" />
<text x="385.65" y="137.20" font-size="9.48" text-anchor="middle" fill="#262626" stroke="#262626" stroke-width="0.18" textLength="8.79" lengthAdjust="spacingAndGlyphs" >30</text>
<text x="322.80" y="149.90" font-size="9.90" text-anchor="middle" fill="#262626" stroke="#262626" stroke-width="0.18" textLength="37" lengthAdjust="spacingAndGlyphs" >Time (min)</text>
<line x1="386.50" y1="37.00" x2="386.50" y2="124.00" stroke="#2b2b2b" stroke-width="1" />
<line x1="386.50" y1="123.50" x2="389.50" y2="123.50" stroke="#2b2b2b" stroke-width="1" />
<text x="391.90" y="126.70" font-size="9.48" text-anchor="start" fill="#262626" stroke="#262626" stroke-width="0.18" textLength="15.38" lengthAdjust="spacingAndGlyphs" >0.00</text>
<line x1="386.50" y1="95.23" x2="389.50" y2="95.23" stroke="#2b2b2b" stroke-width="1" />
<text x="391.90" y="98.43" font-size="9.48" text-anchor="start" fill="#262626" stroke="#262626" stroke-width="0.18" textLength="15.38" lengthAdjust="spacingAndGlyphs" >0.01</text>
<line x1="386.50" y1="66.96" x2="389.50" y2="66.96" stroke="#2b2b2b" stroke-width="1" />
<text x="391.90" y="70.16" font-size="9.48" text-anchor="start" fill="#262626" stroke="#262626" stroke-width="0.18" textLength="15.38" lengthAdjust="spacingAndGlyphs" >0.02</text>
<line x1="386.50" y1="38.69" x2="389.50" y2="38.69" stroke="#2b2b2b" stroke-width="1" />
<text x="391.90" y="41.89" font-size="9.48" text-anchor="start" fill="#262626" stroke="#262626" stroke-width="0.18" textLength="15.38" lengthAdjust="spacingAndGlyphs" >0.03</text>
<text x="227.00" y="16.50" font-size="11.20" text-anchor="start" fill="#000" font-weight="bold" >B</text>
<text x="322.60" y="30.70" font-size="10.72" text-anchor="middle" fill="#262626" stroke="#262626" stroke-width="0.18" textLength="19.32" lengthAdjust="spacingAndGlyphs" style="stroke-width:0.32">HFD</text>
<text x="234.20" y="80.30" font-size="9.72" text-anchor="middle" fill="#262626" stroke="#262626" stroke-width="0.18" textLength="86" lengthAdjust="spacingAndGlyphs" transform="rotate(-90 234.20 80.30)" >Thrombin or plasmin (nM)</text>
<text x="425.30" y="79.80" font-size="9.24" text-anchor="middle" fill="#262626" stroke="#262626" stroke-width="0.18" textLength="60.5" lengthAdjust="spacingAndGlyphs" transform="rotate(90 425.30 79.80)" >Fibrin formation &amp;</text>
<path d="M259.40,124.50 L260.10,124.49 L260.80,124.48 L261.50,124.47 L262.20,124.46 L262.90,124.45 L263.60,124.44 L264.31,124.43 L265.01,124.42 L265.71,124.41 L266.41,124.40 L267.11,112.00 L267.81,100.00 L268.51,88.00 L269.21,79.00 L269.91,74.00 L270.61,72.00 L271.31,71.60 L272.01,71.20 L272.72,71.10 L273.42,71.00 L274.12,71.08 L274.82,71.15 L275.52,71.22 L276.22,71.30 L276.92,71.50 L277.62,71.70 L278.32,71.90 L279.02,72.10 L279.72,72.30 L280.42,72.50 L281.13,73.00 L281.83,73.50 L282.53,74.00 L283.23,74.50 L283.93,75.00 L284.63,75.50 L285.33,76.38 L286.03,77.25 L286.73,78.12 L287.43,79.00 L288.13,79.62 L288.83,80.25 L289.54,80.88 L290.24,81.50 L290.94,82.08 L291.64,82.67 L292.34,83.25 L293.04,83.83 L293.74,84.42 L294.44,85.00 L295.14,85.53 L295.84,86.07 L296.54,86.60 L297.25,87.13 L297.95,87.67 L298.65,88.20 L299.35,88.78 L300.05,89.35 L300.75,89.92 L301.45,90.50 L302.15,91.25 L302.85,92.00 L303.55,92.75 L304.25,93.50 L304.95,94.33 L305.65,95.17 L306.36,96.00 L307.06,96.83 L307.76,97.67 L308.46,98.50 L309.16,99.33 L309.86,100.17 L310.56,101.00 L311.26,101.83 L311.96,102.67 L312.66,103.50 L313.36,104.25 L314.06,105.00 L314.77,105.75 L315.47,106.50 L315.82,106.94 L316.17,107.38 L316.52,107.81 L316.87,108.25 L317.22,108.69 L317.57,109.12 L317.92,109.56 L318.27,110.00 L318.62,110.50 L318.97,111.00 L319.32,111.50 L319.67,112.00 L320.02,112.50 L320.37,113.00 L320.72,113.50 L321.07,114.00 L321.42,114.45 L321.77,114.90 L322.12,115.35 L322.47,115.80 L322.83,116.15 L323.18,116.50 L323.53,116.85 L323.88,117.20 L324.23,118.35 L324.58,119.50 L324.93,120.75 L325.28,122.00 L325.63,122.00 L325.98,122.08 L326.68,123.00 L327.38,123.50 L328.08,121.36 L328.78,122.89 L329.48,122.70 L330.18,122.57 L330.88,120.81 L331.59,120.56 L332.29,121.71 L332.99,122.87 L333.69,121.30 L334.39,122.11 L335.09,121.52 L335.79,123.22 L336.49,123.55 L337.19,121.82 L337.89,123.73 L338.59,120.75 L339.29,123.15 L340.00,123.36 L340.70,121.05 L341.40,122.83 L342.10,122.37 L342.80,123.65 L343.50,121.27 L344.20,122.34 L344.90,123.44 L345.60,122.67 L346.30,121.63 L347.00,120.91 L347.70,123.67 L348.41,122.19 L349.11,123.87 L349.81,121.14 L350.51,123.30 L351.21,123.31 L351.91,123.66 L352.61,120.79 L353.31,121.93 L354.01,120.92 L354.71,123.17 L355.41,121.90 L356.11,123.85 L356.82,121.99 L357.52,123.28 L358.22,123.59 L358.92,121.58 L359.62,122.61 L360.32,123.90 L361.02,122.54 L361.72,122.01 L362.42,121.73 L363.12,123.40 L363.82,121.51 L364.52,122.83 L365.23,122.69 L365.93,122.69 L366.63,121.34 L367.33,123.05 L368.03,123.88 L368.73,121.98 L369.43,122.03 L370.13,123.89 L370.83,122.84 L371.53,121.87 L372.23,121.04 L372.94,123.43 L373.64,122.14 L374.34,122.53 L375.04,121.92 L375.74,123.09 L376.44,123.40 L377.14,122.07 L377.84,121.33 L378.54,124.26 L379.24,124.02 L379.94,121.19 L380.64,122.94 L381.34,123.34 L382.05,122.44 L382.75,123.50 L383.45,124.24 L384.15,123.07 L384.85,122.44 L385.55,121.83" fill="none" stroke="#e5bcae" stroke-width="2.0" stroke-linejoin="round" stroke-linecap="round"/>
<path d="M259.40,122.05 L261.85,126.34 L256.95,126.34Z" fill="#e5bcae"/>
<path d="M260.10,122.04 L262.55,126.33 L257.65,126.33Z" fill="#e5bcae"/>
<path d="M260.80,122.03 L263.25,126.32 L258.35,126.32Z" fill="#e5bcae"/>
<path d="M261.50,122.02 L263.95,126.31 L259.05,126.31Z" fill="#e5bcae"/>
<path d="M262.20,122.01 L264.65,126.30 L259.75,126.30Z" fill="#e5bcae"/>
<path d="M262.90,122.00 L265.35,126.29 L260.45,126.29Z" fill="#e5bcae"/>
<path d="M263.60,121.99 L266.05,126.28 L261.15,126.28Z" fill="#e5bcae"/>
<path d="M264.31,121.98 L266.76,126.27 L261.86,126.27Z" fill="#e5bcae"/>
<path d="M265.01,121.97 L267.46,126.26 L262.56,126.26Z" fill="#e5bcae"/>
<path d="M265.71,121.96 L268.16,126.25 L263.26,126.25Z" fill="#e5bcae"/>
<path d="M266.41,121.95 L268.86,126.24 L263.96,126.24Z" fill="#e5bcae"/>
<path d="M267.11,109.55 L269.56,113.84 L264.66,113.84Z" fill="#e5bcae"/>
<path d="M267.81,97.55 L270.26,101.84 L265.36,101.84Z" fill="#e5bcae"/>
<path d="M268.51,85.55 L270.96,89.84 L266.06,89.84Z" fill="#e5bcae"/>
<path d="M269.21,76.55 L271.66,80.84 L266.76,80.84Z" fill="#e5bcae"/>
<path d="M269.91,71.55 L272.36,75.84 L267.46,75.84Z" fill="#e5bcae"/>
<path d="M270.61,69.55 L273.06,73.84 L268.16,73.84Z" fill="#e5bcae"/>
<path d="M271.31,69.15 L273.76,73.44 L268.86,73.44Z" fill="#e5bcae"/>
<path d="M272.01,68.75 L274.46,73.04 L269.56,73.04Z" fill="#e5bcae"/>
<path d="M272.72,68.65 L275.17,72.94 L270.27,72.94Z" fill="#e5bcae"/>
<path d="M273.42,68.55 L275.87,72.84 L270.97,72.84Z" fill="#e5bcae"/>
<path d="M274.12,68.62 L276.57,72.91 L271.67,72.91Z" fill="#e5bcae"/>
<path d="M274.82,68.70 L277.27,72.99 L272.37,72.99Z" fill="#e5bcae"/>
<path d="M275.52,68.77 L277.97,73.06 L273.07,73.06Z" fill="#e5bcae"/>
<path d="M276.22,68.85 L278.67,73.14 L273.77,73.14Z" fill="#e5bcae"/>
<path d="M276.92,69.05 L279.37,73.34 L274.47,73.34Z" fill="#e5bcae"/>
<path d="M277.62,69.25 L280.07,73.54 L275.17,73.54Z" fill="#e5bcae"/>
<path d="M278.32,69.45 L280.77,73.74 L275.87,73.74Z" fill="#e5bcae"/>
<path d="M279.02,69.65 L281.47,73.94 L276.57,73.94Z" fill="#e5bcae"/>
<path d="M279.72,69.85 L282.17,74.14 L277.27,74.14Z" fill="#e5bcae"/>
<path d="M280.42,70.05 L282.87,74.34 L277.97,74.34Z" fill="#e5bcae"/>
<path d="M281.13,70.55 L283.58,74.84 L278.68,74.84Z" fill="#e5bcae"/>
<path d="M281.83,71.05 L284.28,75.34 L279.38,75.34Z" fill="#e5bcae"/>
<path d="M282.53,71.55 L284.98,75.84 L280.08,75.84Z" fill="#e5bcae"/>
<path d="M283.23,72.05 L285.68,76.34 L280.78,76.34Z" fill="#e5bcae"/>
<path d="M283.93,72.55 L286.38,76.84 L281.48,76.84Z" fill="#e5bcae"/>
<path d="M284.63,73.05 L287.08,77.34 L282.18,77.34Z" fill="#e5bcae"/>
<path d="M285.33,73.92 L287.78,78.21 L282.88,78.21Z" fill="#e5bcae"/>
<path d="M286.03,74.80 L288.48,79.09 L283.58,79.09Z" fill="#e5bcae"/>
<path d="M286.73,75.67 L289.18,79.96 L284.28,79.96Z" fill="#e5bcae"/>
<path d="M287.43,76.55 L289.88,80.84 L284.98,80.84Z" fill="#e5bcae"/>
<path d="M288.13,77.17 L290.58,81.46 L285.68,81.46Z" fill="#e5bcae"/>
<path d="M288.83,77.80 L291.28,82.09 L286.38,82.09Z" fill="#e5bcae"/>
<path d="M289.54,78.42 L291.99,82.71 L287.09,82.71Z" fill="#e5bcae"/>
<path d="M290.24,79.05 L292.69,83.34 L287.79,83.34Z" fill="#e5bcae"/>
<path d="M290.94,79.63 L293.39,83.92 L288.49,83.92Z" fill="#e5bcae"/>
<path d="M291.64,80.22 L294.09,84.50 L289.19,84.50Z" fill="#e5bcae"/>
<path d="M292.34,80.80 L294.79,85.09 L289.89,85.09Z" fill="#e5bcae"/>
<path d="M293.04,81.38 L295.49,85.67 L290.59,85.67Z" fill="#e5bcae"/>
<path d="M293.74,81.97 L296.19,86.25 L291.29,86.25Z" fill="#e5bcae"/>
<path d="M294.44,82.55 L296.89,86.84 L291.99,86.84Z" fill="#e5bcae"/>
<path d="M295.14,83.08 L297.59,87.37 L292.69,87.37Z" fill="#e5bcae"/>
<path d="M295.84,83.62 L298.29,87.90 L293.39,87.90Z" fill="#e5bcae"/>
<path d="M296.54,84.15 L298.99,88.44 L294.09,88.44Z" fill="#e5bcae"/>
<path d="M297.25,84.68 L299.69,88.97 L294.80,88.97Z" fill="#e5bcae"/>
<path d="M297.95,85.22 L300.40,89.50 L295.50,89.50Z" fill="#e5bcae"/>
<path d="M298.65,85.75 L301.10,90.04 L296.20,90.04Z" fill="#e5bcae"/>
<path d="M299.35,86.33 L301.80,90.61 L296.90,90.61Z" fill="#e5bcae"/>
<path d="M300.05,86.90 L302.50,91.19 L297.60,91.19Z" fill="#e5bcae"/>
<path d="M300.75,87.47 L303.20,91.76 L298.30,91.76Z" fill="#e5bcae"/>
<path d="M301.45,88.05 L303.90,92.34 L299.00,92.34Z" fill="#e5bcae"/>
<path d="M302.15,88.80 L304.60,93.09 L299.70,93.09Z" fill="#e5bcae"/>
<path d="M302.85,89.55 L305.30,93.84 L300.40,93.84Z" fill="#e5bcae"/>
<path d="M303.55,90.30 L306.00,94.59 L301.10,94.59Z" fill="#e5bcae"/>
<path d="M304.25,91.05 L306.70,95.34 L301.80,95.34Z" fill="#e5bcae"/>
<path d="M304.95,91.88 L307.40,96.17 L302.50,96.17Z" fill="#e5bcae"/>
<path d="M305.65,92.72 L308.10,97.00 L303.20,97.00Z" fill="#e5bcae"/>
<path d="M306.36,93.55 L308.81,97.84 L303.91,97.84Z" fill="#e5bcae"/>
<path d="M307.06,94.38 L309.51,98.67 L304.61,98.67Z" fill="#e5bcae"/>
<path d="M307.76,95.22 L310.21,99.50 L305.31,99.50Z" fill="#e5bcae"/>
<path d="M308.46,96.05 L310.91,100.34 L306.01,100.34Z" fill="#e5bcae"/>
<path d="M309.16,96.88 L311.61,101.17 L306.71,101.17Z" fill="#e5bcae"/>
<path d="M309.86,97.72 L312.31,102.00 L307.41,102.00Z" fill="#e5bcae"/>
<path d="M310.56,98.55 L313.01,102.84 L308.11,102.84Z" fill="#e5bcae"/>
<path d="M311.26,99.38 L313.71,103.67 L308.81,103.67Z" fill="#e5bcae"/>
<path d="M311.96,100.22 L314.41,104.50 L309.51,104.50Z" fill="#e5bcae"/>
<path d="M312.66,101.05 L315.11,105.34 L310.21,105.34Z" fill="#e5bcae"/>
<path d="M313.36,101.80 L315.81,106.09 L310.91,106.09Z" fill="#e5bcae"/>
<path d="M314.06,102.55 L316.51,106.84 L311.62,106.84Z" fill="#e5bcae"/>
<path d="M314.77,103.30 L317.22,107.59 L312.32,107.59Z" fill="#e5bcae"/>
<path d="M315.47,104.05 L317.92,108.34 L313.02,108.34Z" fill="#e5bcae"/>
<path d="M315.82,104.49 L318.27,108.78 L313.37,108.78Z" fill="#e5bcae"/>
<path d="M316.17,104.92 L318.62,109.21 L313.72,109.21Z" fill="#e5bcae"/>
<path d="M316.52,105.36 L318.97,109.65 L314.07,109.65Z" fill="#e5bcae"/>
<path d="M316.87,105.80 L319.32,110.09 L314.42,110.09Z" fill="#e5bcae"/>
<path d="M317.22,106.24 L319.67,110.53 L314.77,110.53Z" fill="#e5bcae"/>
<path d="M317.57,106.67 L320.02,110.96 L315.12,110.96Z" fill="#e5bcae"/>
<path d="M317.92,107.11 L320.37,111.40 L315.47,111.40Z" fill="#e5bcae"/>
<path d="M318.27,107.55 L320.72,111.84 L315.82,111.84Z" fill="#e5bcae"/>
<path d="M318.62,108.05 L321.07,112.34 L316.17,112.34Z" fill="#e5bcae"/>
<path d="M318.97,108.55 L321.42,112.84 L316.52,112.84Z" fill="#e5bcae"/>
<path d="M319.32,109.05 L321.77,113.34 L316.87,113.34Z" fill="#e5bcae"/>
<path d="M319.67,109.55 L322.12,113.84 L317.22,113.84Z" fill="#e5bcae"/>
<path d="M320.02,110.05 L322.47,114.34 L317.57,114.34Z" fill="#e5bcae"/>
<path d="M320.37,110.55 L322.82,114.84 L317.92,114.84Z" fill="#e5bcae"/>
<path d="M320.72,111.05 L323.17,115.34 L318.27,115.34Z" fill="#e5bcae"/>
<path d="M321.07,111.55 L323.52,115.84 L318.62,115.84Z" fill="#e5bcae"/>
<path d="M321.42,112.00 L323.87,116.29 L318.97,116.29Z" fill="#e5bcae"/>
<path d="M321.77,112.45 L324.22,116.74 L319.32,116.74Z" fill="#e5bcae"/>
<path d="M322.12,112.90 L324.57,117.19 L319.67,117.19Z" fill="#e5bcae"/>
<path d="M322.47,113.35 L324.92,117.64 L320.02,117.64Z" fill="#e5bcae"/>
<path d="M322.83,113.70 L325.28,117.99 L320.38,117.99Z" fill="#e5bcae"/>
<path d="M323.18,114.05 L325.63,118.34 L320.73,118.34Z" fill="#e5bcae"/>
<path d="M323.53,114.40 L325.98,118.69 L321.08,118.69Z" fill="#e5bcae"/>
<path d="M323.88,114.75 L326.33,119.04 L321.43,119.04Z" fill="#e5bcae"/>
<path d="M324.23,115.90 L326.68,120.19 L321.78,120.19Z" fill="#e5bcae"/>
<path d="M324.58,117.05 L327.03,121.34 L322.13,121.34Z" fill="#e5bcae"/>
<path d="M324.93,118.30 L327.38,122.59 L322.48,122.59Z" fill="#e5bcae"/>
<path d="M325.28,119.55 L327.73,123.84 L322.83,123.84Z" fill="#e5bcae"/>
<path d="M325.63,119.55 L328.08,123.84 L323.18,123.84Z" fill="#e5bcae"/>
<path d="M325.98,119.63 L328.43,123.92 L323.53,123.92Z" fill="#e5bcae"/>
<path d="M326.68,120.55 L329.13,124.83 L324.23,124.83Z" fill="#e5bcae"/>
<path d="M327.38,121.05 L329.83,125.33 L324.93,125.33Z" fill="#e5bcae"/>
<path d="M328.08,118.91 L330.53,123.20 L325.63,123.20Z" fill="#e5bcae"/>
<path d="M328.78,120.44 L331.23,124.73 L326.33,124.73Z" fill="#e5bcae"/>
<path d="M329.48,120.25 L331.93,124.54 L327.03,124.54Z" fill="#e5bcae"/>
<path d="M330.18,120.12 L332.63,124.41 L327.73,124.41Z" fill="#e5bcae"/>
<path d="M330.88,118.36 L333.33,122.65 L328.44,122.65Z" fill="#e5bcae"/>
<path d="M331.59,118.11 L334.04,122.39 L329.14,122.39Z" fill="#e5bcae"/>
<path d="M332.29,119.26 L334.74,123.54 L329.84,123.54Z" fill="#e5bcae"/>
<path d="M332.99,120.42 L335.44,124.71 L330.54,124.71Z" fill="#e5bcae"/>
<path d="M333.69,118.85 L336.14,123.14 L331.24,123.14Z" fill="#e5bcae"/>
<path d="M334.39,119.66 L336.84,123.94 L331.94,123.94Z" fill="#e5bcae"/>
<path d="M335.09,119.07 L337.54,123.36 L332.64,123.36Z" fill="#e5bcae"/>
<path d="M335.79,120.77 L338.24,125.06 L333.34,125.06Z" fill="#e5bcae"/>
<path d="M336.49,121.10 L338.94,125.39 L334.04,125.39Z" fill="#e5bcae"/>
<path d="M337.19,119.37 L339.64,123.65 L334.74,123.65Z" fill="#e5bcae"/>
<path d="M337.89,121.28 L340.34,125.57 L335.44,125.57Z" fill="#e5bcae"/>
<path d="M338.59,118.30 L341.04,122.58 L336.14,122.58Z" fill="#e5bcae"/>
<path d="M339.29,120.70 L341.74,124.99 L336.84,124.99Z" fill="#e5bcae"/>
<path d="M340.00,120.91 L342.45,125.20 L337.55,125.20Z" fill="#e5bcae"/>
<path d="M340.70,118.60 L343.15,122.89 L338.25,122.89Z" fill="#e5bcae"/>
<path d="M341.40,120.38 L343.85,124.67 L338.95,124.67Z" fill="#e5bcae"/>
<path d="M342.10,119.92 L344.55,124.21 L339.65,124.21Z" fill="#e5bcae"/>
<path d="M342.80,121.20 L345.25,125.49 L340.35,125.49Z" fill="#e5bcae"/>
<path d="M343.50,118.82 L345.95,123.11 L341.05,123.11Z" fill="#e5bcae"/>
<path d="M344.20,119.89 L346.65,124.18 L341.75,124.18Z" fill="#e5bcae"/>
<path d="M344.90,120.99 L347.35,125.28 L342.45,125.28Z" fill="#e5bcae"/>
<path d="M345.60,120.22 L348.05,124.51 L343.15,124.51Z" fill="#e5bcae"/>
<path d="M346.30,119.18 L348.75,123.47 L343.85,123.47Z" fill="#e5bcae"/>
<path d="M347.00,118.46 L349.45,122.75 L344.55,122.75Z" fill="#e5bcae"/>
<path d="M347.70,121.22 L350.15,125.50 L345.25,125.50Z" fill="#e5bcae"/>
<path d="M348.41,119.74 L350.86,124.02 L345.96,124.02Z" fill="#e5bcae"/>
<path d="M349.11,121.42 L351.56,125.71 L346.66,125.71Z" fill="#e5bcae"/>
<path d="M349.81,118.69 L352.26,122.98 L347.36,122.98Z" fill="#e5bcae"/>
<path d="M350.51,120.85 L352.96,125.14 L348.06,125.14Z" fill="#e5bcae"/>
<path d="M351.21,120.86 L353.66,125.15 L348.76,125.15Z" fill="#e5bcae"/>
<path d="M351.91,121.21 L354.36,125.50 L349.46,125.50Z" fill="#e5bcae"/>
<path d="M352.61,118.34 L355.06,122.62 L350.16,122.62Z" fill="#e5bcae"/>
<path d="M353.31,119.48 L355.76,123.77 L350.86,123.77Z" fill="#e5bcae"/>
<path d="M354.01,118.47 L356.46,122.75 L351.56,122.75Z" fill="#e5bcae"/>
<path d="M354.71,120.72 L357.16,125.00 L352.26,125.00Z" fill="#e5bcae"/>
<path d="M355.41,119.45 L357.86,123.74 L352.96,123.74Z" fill="#e5bcae"/>
<path d="M356.11,121.40 L358.56,125.69 L353.66,125.69Z" fill="#e5bcae"/>
<path d="M356.82,119.54 L359.27,123.83 L354.37,123.83Z" fill="#e5bcae"/>
<path d="M357.52,120.83 L359.97,125.12 L355.07,125.12Z" fill="#e5bcae"/>
<path d="M358.22,121.14 L360.67,125.42 L355.77,125.42Z" fill="#e5bcae"/>
<path d="M358.92,119.13 L361.37,123.42 L356.47,123.42Z" fill="#e5bcae"/>
<path d="M359.62,120.16 L362.07,124.45 L357.17,124.45Z" fill="#e5bcae"/>
<path d="M360.32,121.45 L362.77,125.74 L357.87,125.74Z" fill="#e5bcae"/>
<path d="M361.02,120.09 L363.47,124.37 L358.57,124.37Z" fill="#e5bcae"/>
<path d="M361.72,119.56 L364.17,123.85 L359.27,123.85Z" fill="#e5bcae"/>
<path d="M362.42,119.28 L364.87,123.56 L359.97,123.56Z" fill="#e5bcae"/>
<path d="M363.12,120.95 L365.57,125.23 L360.67,125.23Z" fill="#e5bcae"/>
<path d="M363.82,119.06 L366.27,123.34 L361.37,123.34Z" fill="#e5bcae"/>
<path d="M364.52,120.38 L366.97,124.67 L362.07,124.67Z" fill="#e5bcae"/>
<path d="M365.23,120.24 L367.68,124.53 L362.78,124.53Z" fill="#e5bcae"/>
<path d="M365.93,120.24 L368.38,124.53 L363.48,124.53Z" fill="#e5bcae"/>
<path d="M366.63,118.89 L369.08,123.18 L364.18,123.18Z" fill="#e5bcae"/>
<path d="M367.33,120.60 L369.78,124.88 L364.88,124.88Z" fill="#e5bcae"/>
<path d="M368.03,121.43 L370.48,125.72 L365.58,125.72Z" fill="#e5bcae"/>
<path d="M368.73,119.53 L371.18,123.82 L366.28,123.82Z" fill="#e5bcae"/>
<path d="M369.43,119.58 L371.88,123.87 L366.98,123.87Z" fill="#e5bcae"/>
<path d="M370.13,121.44 L372.58,125.73 L367.68,125.73Z" fill="#e5bcae"/>
<path d="M370.83,120.39 L373.28,124.68 L368.38,124.68Z" fill="#e5bcae"/>
<path d="M371.53,119.42 L373.98,123.71 L369.08,123.71Z" fill="#e5bcae"/>
<path d="M372.23,118.59 L374.68,122.88 L369.78,122.88Z" fill="#e5bcae"/>
<path d="M372.94,120.98 L375.38,125.27 L370.49,125.27Z" fill="#e5bcae"/>
<path d="M373.64,119.69 L376.09,123.98 L371.19,123.98Z" fill="#e5bcae"/>
<path d="M374.34,120.08 L376.79,124.37 L371.89,124.37Z" fill="#e5bcae"/>
<path d="M375.04,119.47 L377.49,123.76 L372.59,123.76Z" fill="#e5bcae"/>
<path d="M375.74,120.64 L378.19,124.92 L373.29,124.92Z" fill="#e5bcae"/>
<path d="M376.44,120.95 L378.89,125.24 L373.99,125.24Z" fill="#e5bcae"/>
<path d="M377.14,119.62 L379.59,123.91 L374.69,123.91Z" fill="#e5bcae"/>
<path d="M377.84,118.88 L380.29,123.17 L375.39,123.17Z" fill="#e5bcae"/>
<path d="M378.54,121.81 L380.99,126.10 L376.09,126.10Z" fill="#e5bcae"/>
<path d="M379.24,121.57 L381.69,125.86 L376.79,125.86Z" fill="#e5bcae"/>
<path d="M379.94,118.74 L382.39,123.02 L377.49,123.02Z" fill="#e5bcae"/>
<path d="M380.64,120.49 L383.09,124.77 L378.19,124.77Z" fill="#e5bcae"/>
<path d="M381.34,120.89 L383.79,125.17 L378.89,125.17Z" fill="#e5bcae"/>
<path d="M382.05,119.99 L384.50,124.28 L379.60,124.28Z" fill="#e5bcae"/>
<path d="M382.75,121.05 L385.20,125.34 L380.30,125.34Z" fill="#e5bcae"/>
<path d="M383.45,121.79 L385.90,126.08 L381.00,126.08Z" fill="#e5bcae"/>
<path d="M384.15,120.62 L386.60,124.91 L381.70,124.91Z" fill="#e5bcae"/>
<path d="M384.85,119.99 L387.30,124.28 L382.40,124.28Z" fill="#e5bcae"/>
<path d="M385.55,119.38 L388.00,123.66 L383.10,123.66Z" fill="#e5bcae"/>
<path d="M262.20,122.80 L263.60,122.63 L265.01,122.47 L266.41,122.30 L267.81,122.13 L269.21,121.97 L270.61,121.80 L272.01,121.66 L273.42,121.51 L274.82,121.37 L276.22,121.23 L277.62,121.09 L279.02,120.94 L280.42,120.80 L281.83,120.61 L283.23,120.43 L284.63,120.24 L286.03,120.06 L287.43,119.87 L288.83,119.69 L290.24,119.50 L291.64,119.20 L293.04,118.90 L294.44,118.60 L295.84,118.30 L297.25,118.00 L298.65,117.70 L300.05,117.40 L301.45,117.10 L302.85,116.80 L304.25,116.50 L305.65,116.20 L307.06,115.90 L308.46,115.60 L309.86,115.30 L311.26,115.00 L312.66,114.50 L314.06,114.00 L315.47,113.50 L316.87,113.00 L318.27,112.50 L319.67,112.00 L321.07,111.46 L322.47,110.91 L323.88,110.37 L325.28,109.83 L326.68,109.29 L328.08,108.74 L329.48,108.20 L330.88,107.53 L332.29,106.85 L333.69,106.17 L335.09,105.50 L336.49,104.45 L337.89,103.40 L339.29,100.70 L340.70,98.00 L342.10,95.67 L343.50,93.67 L344.90,92.00 L346.30,92.45 L347.70,93.80 L349.11,94.04 L350.51,96.25 L351.91,96.54 L353.31,97.93 L354.71,96.73 L356.11,97.95 L357.52,98.65 L358.92,99.80 L360.32,102.41 L361.72,101.24 L363.12,103.23 L364.52,102.78 L365.93,103.68 L367.33,104.77 L368.73,106.65 L370.13,106.37 L371.53,104.85 L372.94,97.30 L374.34,106.05 L375.74,108.89 L377.14,109.05 L378.54,108.64 L379.94,108.31 L381.34,107.63 L382.75,109.23 L384.15,109.60 L385.55,108.67" fill="none" stroke="#bb4a44" stroke-width="0.5"/>
<circle cx="262.20" cy="122.80" r="2.45" fill="none" stroke="#bb4a44" stroke-width="0.8"/>
<circle cx="263.60" cy="122.63" r="2.45" fill="none" stroke="#bb4a44" stroke-width="0.8"/>
<circle cx="265.01" cy="122.47" r="2.45" fill="none" stroke="#bb4a44" stroke-width="0.8"/>
<circle cx="266.41" cy="122.30" r="2.45" fill="none" stroke="#bb4a44" stroke-width="0.8"/>
<circle cx="267.81" cy="122.13" r="2.45" fill="none" stroke="#bb4a44" stroke-width="0.8"/>
<circle cx="269.21" cy="121.97" r="2.45" fill="none" stroke="#bb4a44" stroke-width="0.8"/>
<circle cx="270.61" cy="121.80" r="2.45" fill="none" stroke="#bb4a44" stroke-width="0.8"/>
<circle cx="272.01" cy="121.66" r="2.45" fill="none" stroke="#bb4a44" stroke-width="0.8"/>
<circle cx="273.42" cy="121.51" r="2.45" fill="none" stroke="#bb4a44" stroke-width="0.8"/>
<circle cx="274.82" cy="121.37" r="2.45" fill="none" stroke="#bb4a44" stroke-width="0.8"/>
<circle cx="276.22" cy="121.23" r="2.45" fill="none" stroke="#bb4a44" stroke-width="0.8"/>
<circle cx="277.62" cy="121.09" r="2.45" fill="none" stroke="#bb4a44" stroke-width="0.8"/>
<circle cx="279.02" cy="120.94" r="2.45" fill="none" stroke="#bb4a44" stroke-width="0.8"/>
<circle cx="280.42" cy="120.80" r="2.45" fill="none" stroke="#bb4a44" stroke-width="0.8"/>
<circle cx="281.83" cy="120.61" r="2.45" fill="none" stroke="#bb4a44" stroke-width="0.8"/>
<circle cx="283.23" cy="120.43" r="2.45" fill="none" stroke="#bb4a44" stroke-width="0.8"/>
<circle cx="284.63" cy="120.24" r="2.45" fill="none" stroke="#bb4a44" stroke-width="0.8"/>
<circle cx="286.03" cy="120.06" r="2.45" fill="none" stroke="#bb4a44" stroke-width="0.8"/>
<circle cx="287.43" cy="119.87" r="2.45" fill="none" stroke="#bb4a44" stroke-width="0.8"/>
<circle cx="288.83" cy="119.69" r="2.45" fill="none" stroke="#bb4a44" stroke-width="0.8"/>
<circle cx="290.24" cy="119.50" r="2.45" fill="none" stroke="#bb4a44" stroke-width="0.8"/>
<circle cx="291.64" cy="119.20" r="2.45" fill="none" stroke="#bb4a44" stroke-width="0.8"/>
<circle cx="293.04" cy="118.90" r="2.45" fill="none" stroke="#bb4a44" stroke-width="0.8"/>
<circle cx="294.44" cy="118.60" r="2.45" fill="none" stroke="#bb4a44" stroke-width="0.8"/>
<circle cx="295.84" cy="118.30" r="2.45" fill="none" stroke="#bb4a44" stroke-width="0.8"/>
<circle cx="297.25" cy="118.00" r="2.45" fill="none" stroke="#bb4a44" stroke-width="0.8"/>
<circle cx="298.65" cy="117.70" r="2.45" fill="none" stroke="#bb4a44" stroke-width="0.8"/>
<circle cx="300.05" cy="117.40" r="2.45" fill="none" stroke="#bb4a44" stroke-width="0.8"/>
<circle cx="301.45" cy="117.10" r="2.45" fill="none" stroke="#bb4a44" stroke-width="0.8"/>
<circle cx="302.85" cy="116.80" r="2.45" fill="none" stroke="#bb4a44" stroke-width="0.8"/>
<circle cx="304.25" cy="116.50" r="2.45" fill="none" stroke="#bb4a44" stroke-width="0.8"/>
<circle cx="305.65" cy="116.20" r="2.45" fill="none" stroke="#bb4a44" stroke-width="0.8"/>
<circle cx="307.06" cy="115.90" r="2.45" fill="none" stroke="#bb4a44" stroke-width="0.8"/>
<circle cx="308.46" cy="115.60" r="2.45" fill="none" stroke="#bb4a44" stroke-width="0.8"/>
<circle cx="309.86" cy="115.30" r="2.45" fill="none" stroke="#bb4a44" stroke-width="0.8"/>
<circle cx="311.26" cy="115.00" r="2.45" fill="none" stroke="#bb4a44" stroke-width="0.8"/>
<circle cx="312.66" cy="114.50" r="2.45" fill="none" stroke="#bb4a44" stroke-width="0.8"/>
<circle cx="314.06" cy="114.00" r="2.45" fill="none" stroke="#bb4a44" stroke-width="0.8"/>
<circle cx="315.47" cy="113.50" r="2.45" fill="none" stroke="#bb4a44" stroke-width="0.8"/>
<circle cx="316.87" cy="113.00" r="2.45" fill="none" stroke="#bb4a44" stroke-width="0.8"/>
<circle cx="318.27" cy="112.50" r="2.45" fill="none" stroke="#bb4a44" stroke-width="0.8"/>
<circle cx="319.67" cy="112.00" r="2.45" fill="none" stroke="#bb4a44" stroke-width="0.8"/>
<circle cx="321.07" cy="111.46" r="2.45" fill="none" stroke="#bb4a44" stroke-width="0.8"/>
<circle cx="322.47" cy="110.91" r="2.45" fill="none" stroke="#bb4a44" stroke-width="0.8"/>
<circle cx="323.88" cy="110.37" r="2.45" fill="none" stroke="#bb4a44" stroke-width="0.8"/>
<circle cx="325.28" cy="109.83" r="2.45" fill="none" stroke="#bb4a44" stroke-width="0.8"/>
<circle cx="326.68" cy="109.29" r="2.45" fill="none" stroke="#bb4a44" stroke-width="0.8"/>
<circle cx="328.08" cy="108.74" r="2.45" fill="none" stroke="#bb4a44" stroke-width="0.8"/>
<circle cx="329.48" cy="108.20" r="2.45" fill="none" stroke="#bb4a44" stroke-width="0.8"/>
<circle cx="330.88" cy="107.53" r="2.45" fill="none" stroke="#bb4a44" stroke-width="0.8"/>
<circle cx="332.29" cy="106.85" r="2.45" fill="none" stroke="#bb4a44" stroke-width="0.8"/>
<circle cx="333.69" cy="106.17" r="2.45" fill="none" stroke="#bb4a44" stroke-width="0.8"/>
<circle cx="335.09" cy="105.50" r="2.45" fill="none" stroke="#bb4a44" stroke-width="0.8"/>
<circle cx="336.49" cy="104.45" r="2.45" fill="none" stroke="#bb4a44" stroke-width="0.8"/>
<circle cx="337.89" cy="103.40" r="2.45" fill="none" stroke="#bb4a44" stroke-width="0.8"/>
<circle cx="339.29" cy="100.70" r="2.45" fill="none" stroke="#bb4a44" stroke-width="0.8"/>
<circle cx="340.70" cy="98.00" r="2.45" fill="none" stroke="#bb4a44" stroke-width="0.8"/>
<circle cx="342.10" cy="95.67" r="2.45" fill="none" stroke="#bb4a44" stroke-width="0.8"/>
<circle cx="343.50" cy="93.67" r="2.45" fill="none" stroke="#bb4a44" stroke-width="0.8"/>
<circle cx="344.90" cy="92.00" r="2.45" fill="none" stroke="#bb4a44" stroke-width="0.8"/>
<circle cx="346.30" cy="92.45" r="2.45" fill="none" stroke="#bb4a44" stroke-width="0.8"/>
<circle cx="347.70" cy="93.80" r="2.45" fill="none" stroke="#bb4a44" stroke-width="0.8"/>
<circle cx="349.11" cy="94.04" r="2.45" fill="none" stroke="#bb4a44" stroke-width="0.8"/>
<circle cx="350.51" cy="96.25" r="2.45" fill="none" stroke="#bb4a44" stroke-width="0.8"/>
<circle cx="351.91" cy="96.54" r="2.45" fill="none" stroke="#bb4a44" stroke-width="0.8"/>
<circle cx="353.31" cy="97.93" r="2.45" fill="none" stroke="#bb4a44" stroke-width="0.8"/>
<circle cx="354.71" cy="96.73" r="2.45" fill="none" stroke="#bb4a44" stroke-width="0.8"/>
<circle cx="356.11" cy="97.95" r="2.45" fill="none" stroke="#bb4a44" stroke-width="0.8"/>
<circle cx="357.52" cy="98.65" r="2.45" fill="none" stroke="#bb4a44" stroke-width="0.8"/>
<circle cx="358.92" cy="99.80" r="2.45" fill="none" stroke="#bb4a44" stroke-width="0.8"/>
<circle cx="360.32" cy="102.41" r="2.45" fill="none" stroke="#bb4a44" stroke-width="0.8"/>
<circle cx="361.72" cy="101.24" r="2.45" fill="none" stroke="#bb4a44" stroke-width="0.8"/>
<circle cx="363.12" cy="103.23" r="2.45" fill="none" stroke="#bb4a44" stroke-width="0.8"/>
<circle cx="364.52" cy="102.78" r="2.45" fill="none" stroke="#bb4a44" stroke-width="0.8"/>
<circle cx="365.93" cy="103.68" r="2.45" fill="none" stroke="#bb4a44" stroke-width="0.8"/>
<circle cx="367.33" cy="104.77" r="2.45" fill="none" stroke="#bb4a44" stroke-width="0.8"/>
<circle cx="368.73" cy="106.65" r="2.45" fill="none" stroke="#bb4a44" stroke-width="0.8"/>
<circle cx="370.13" cy="106.37" r="2.45" fill="none" stroke="#bb4a44" stroke-width="0.8"/>
<circle cx="371.53" cy="104.85" r="2.45" fill="none" stroke="#bb4a44" stroke-width="0.8"/>
<circle cx="372.94" cy="97.30" r="2.45" fill="none" stroke="#bb4a44" stroke-width="0.8"/>
<circle cx="374.34" cy="106.05" r="2.45" fill="none" stroke="#bb4a44" stroke-width="0.8"/>
<circle cx="375.74" cy="108.89" r="2.45" fill="none" stroke="#bb4a44" stroke-width="0.8"/>
<circle cx="377.14" cy="109.05" r="2.45" fill="none" stroke="#bb4a44" stroke-width="0.8"/>
<circle cx="378.54" cy="108.64" r="2.45" fill="none" stroke="#bb4a44" stroke-width="0.8"/>
<circle cx="379.94" cy="108.31" r="2.45" fill="none" stroke="#bb4a44" stroke-width="0.8"/>
<circle cx="381.34" cy="107.63" r="2.45" fill="none" stroke="#bb4a44" stroke-width="0.8"/>
<circle cx="382.75" cy="109.23" r="2.45" fill="none" stroke="#bb4a44" stroke-width="0.8"/>
<circle cx="384.15" cy="109.60" r="2.45" fill="none" stroke="#bb4a44" stroke-width="0.8"/>
<circle cx="385.55" cy="108.67" r="2.45" fill="none" stroke="#bb4a44" stroke-width="0.8"/>
<path d="M262.20,122.37 L263.60,122.30 L265.01,111.00 L266.41,82.60 L267.81,57.00 L269.21,51.50 L270.61,58.00 L272.01,67.00 L273.42,74.70 L274.82,81.60 L276.22,86.80 L277.62,90.30 L279.02,93.30 L280.42,95.50 L281.83,97.50 L283.23,99.30 L284.63,100.80 L286.03,101.90 L287.43,103.00 L288.83,103.80 L290.24,104.45 L291.64,105.36 L293.04,107.09 L294.44,106.19 L295.84,106.79 L297.25,107.51 L298.65,106.69 L300.05,108.10 L301.45,108.83 L302.85,109.71 L304.25,107.83 L305.65,108.86 L307.06,108.53 L308.46,111.19 L309.86,111.09 L311.26,109.28 L312.66,112.57 L314.06,112.79 L315.47,110.79 L316.87,111.97 L318.27,109.57 L319.67,111.68 L321.07,113.30 L322.47,112.11 L323.88,112.61 L325.28,113.33 L326.68,113.38 L328.08,113.77 L329.48,111.99 L330.88,115.83 L332.29,114.48 L333.69,114.01 L335.09,112.78 L336.49,113.78 L337.89,114.96 L339.29,113.58 L340.70,117.46 L342.10,115.05 L343.50,115.07 L344.90,115.01 L346.30,114.00 L347.70,113.30 L349.11,114.67 L350.51,112.54 L351.91,116.33 L353.31,115.13 L354.71,116.13 L356.11,114.96 L357.52,117.05 L358.92,117.18 L360.32,114.52 L361.72,114.29 L363.12,119.18 L364.52,117.35 L365.93,119.27 L367.33,116.44 L368.73,114.25 L370.13,117.36 L371.53,117.96 L372.94,115.49 L374.34,114.74 L375.74,118.21 L377.14,119.08 L378.54,119.12 L379.94,116.10 L381.34,118.37 L382.75,117.12 L384.15,119.10 L385.55,121.67" fill="none" stroke="#a6082c" stroke-width="0.9"/>
<circle cx="262.20" cy="122.37" r="2.5" fill="#a6082c"/>
<circle cx="263.60" cy="122.30" r="2.5" fill="#a6082c"/>
<circle cx="265.01" cy="111.00" r="2.5" fill="#a6082c"/>
<circle cx="266.41" cy="82.60" r="2.5" fill="#a6082c"/>
<circle cx="267.81" cy="57.00" r="2.5" fill="#a6082c"/>
<circle cx="269.21" cy="51.50" r="2.5" fill="#a6082c"/>
<circle cx="270.61" cy="58.00" r="2.5" fill="#a6082c"/>
<circle cx="272.01" cy="67.00" r="2.5" fill="#a6082c"/>
<circle cx="273.42" cy="74.70" r="2.5" fill="#a6082c"/>
<circle cx="274.82" cy="81.60" r="2.5" fill="#a6082c"/>
<circle cx="276.22" cy="86.80" r="2.5" fill="#a6082c"/>
<circle cx="277.62" cy="90.30" r="2.5" fill="#a6082c"/>
<circle cx="279.02" cy="93.30" r="2.5" fill="#a6082c"/>
<circle cx="280.42" cy="95.50" r="2.5" fill="#a6082c"/>
<circle cx="281.83" cy="97.50" r="2.5" fill="#a6082c"/>
<circle cx="283.23" cy="99.30" r="2.5" fill="#a6082c"/>
<circle cx="284.63" cy="100.80" r="2.5" fill="#a6082c"/>
<circle cx="286.03" cy="101.90" r="2.5" fill="#a6082c"/>
<circle cx="287.43" cy="103.00" r="2.5" fill="#a6082c"/>
<circle cx="288.83" cy="103.80" r="2.5" fill="#a6082c"/>
<circle cx="290.24" cy="104.45" r="2.5" fill="#a6082c"/>
<circle cx="291.64" cy="105.36" r="2.5" fill="#a6082c"/>
<circle cx="293.04" cy="107.09" r="2.5" fill="#a6082c"/>
<circle cx="294.44" cy="106.19" r="2.5" fill="#a6082c"/>
<circle cx="295.84" cy="106.79" r="2.5" fill="#a6082c"/>
<circle cx="297.25" cy="107.51" r="2.5" fill="#a6082c"/>
<circle cx="298.65" cy="106.69" r="2.5" fill="#a6082c"/>
<circle cx="300.05" cy="108.10" r="2.5" fill="#a6082c"/>
<circle cx="301.45" cy="108.83" r="2.5" fill="#a6082c"/>
<circle cx="302.85" cy="109.71" r="2.5" fill="#a6082c"/>
<circle cx="304.25" cy="107.83" r="2.5" fill="#a6082c"/>
<circle cx="305.65" cy="108.86" r="2.5" fill="#a6082c"/>
<circle cx="307.06" cy="108.53" r="2.5" fill="#a6082c"/>
<circle cx="308.46" cy="111.19" r="2.5" fill="#a6082c"/>
<circle cx="309.86" cy="111.09" r="2.5" fill="#a6082c"/>
<circle cx="311.26" cy="109.28" r="2.5" fill="#a6082c"/>
<circle cx="312.66" cy="112.57" r="2.5" fill="#a6082c"/>
<circle cx="314.06" cy="112.79" r="2.5" fill="#a6082c"/>
<circle cx="315.47" cy="110.79" r="2.5" fill="#a6082c"/>
<circle cx="316.87" cy="111.97" r="2.5" fill="#a6082c"/>
<circle cx="318.27" cy="109.57" r="2.5" fill="#a6082c"/>
<circle cx="319.67" cy="111.68" r="2.5" fill="#a6082c"/>
<circle cx="321.07" cy="113.30" r="2.5" fill="#a6082c"/>
<circle cx="322.47" cy="112.11" r="2.5" fill="#a6082c"/>
<circle cx="323.88" cy="112.61" r="2.5" fill="#a6082c"/>
<circle cx="325.28" cy="113.33" r="2.5" fill="#a6082c"/>
<circle cx="326.68" cy="113.38" r="2.5" fill="#a6082c"/>
<circle cx="328.08" cy="113.77" r="2.5" fill="#a6082c"/>
<circle cx="329.48" cy="111.99" r="2.5" fill="#a6082c"/>
<circle cx="330.88" cy="115.83" r="2.5" fill="#a6082c"/>
<circle cx="332.29" cy="114.48" r="2.5" fill="#a6082c"/>
<circle cx="333.69" cy="114.01" r="2.5" fill="#a6082c"/>
<circle cx="335.09" cy="112.78" r="2.5" fill="#a6082c"/>
<circle cx="336.49" cy="113.78" r="2.5" fill="#a6082c"/>
<circle cx="337.89" cy="114.96" r="2.5" fill="#a6082c"/>
<circle cx="339.29" cy="113.58" r="2.5" fill="#a6082c"/>
<circle cx="340.70" cy="117.46" r="2.5" fill="#a6082c"/>
<circle cx="342.10" cy="115.05" r="2.5" fill="#a6082c"/>
<circle cx="343.50" cy="115.07" r="2.5" fill="#a6082c"/>
<circle cx="344.90" cy="115.01" r="2.5" fill="#a6082c"/>
<circle cx="346.30" cy="114.00" r="2.5" fill="#a6082c"/>
<circle cx="347.70" cy="113.30" r="2.5" fill="#a6082c"/>
<circle cx="349.11" cy="114.67" r="2.5" fill="#a6082c"/>
<circle cx="350.51" cy="112.54" r="2.5" fill="#a6082c"/>
<circle cx="351.91" cy="116.33" r="2.5" fill="#a6082c"/>
<circle cx="353.31" cy="115.13" r="2.5" fill="#a6082c"/>
<circle cx="354.71" cy="116.13" r="2.5" fill="#a6082c"/>
<circle cx="356.11" cy="114.96" r="2.5" fill="#a6082c"/>
<circle cx="357.52" cy="117.05" r="2.5" fill="#a6082c"/>
<circle cx="358.92" cy="117.18" r="2.5" fill="#a6082c"/>
<circle cx="360.32" cy="114.52" r="2.5" fill="#a6082c"/>
<circle cx="361.72" cy="114.29" r="2.5" fill="#a6082c"/>
<circle cx="363.12" cy="119.18" r="2.5" fill="#a6082c"/>
<circle cx="364.52" cy="117.35" r="2.5" fill="#a6082c"/>
<circle cx="365.93" cy="119.27" r="2.5" fill="#a6082c"/>
<circle cx="367.33" cy="116.44" r="2.5" fill="#a6082c"/>
<circle cx="368.73" cy="114.25" r="2.5" fill="#a6082c"/>
<circle cx="370.13" cy="117.36" r="2.5" fill="#a6082c"/>
<circle cx="371.53" cy="117.96" r="2.5" fill="#a6082c"/>
<circle cx="372.94" cy="115.49" r="2.5" fill="#a6082c"/>
<circle cx="374.34" cy="114.74" r="2.5" fill="#a6082c"/>
<circle cx="375.74" cy="118.21" r="2.5" fill="#a6082c"/>
<circle cx="377.14" cy="119.08" r="2.5" fill="#a6082c"/>
<circle cx="378.54" cy="119.12" r="2.5" fill="#a6082c"/>
<circle cx="379.94" cy="116.10" r="2.5" fill="#a6082c"/>
<circle cx="381.34" cy="118.37" r="2.5" fill="#a6082c"/>
<circle cx="382.75" cy="117.12" r="2.5" fill="#a6082c"/>
<circle cx="384.15" cy="119.10" r="2.5" fill="#a6082c"/>
<circle cx="385.55" cy="121.67" r="2.5" fill="#a6082c"/>
<line x1="112.00" y1="45.30" x2="121.20" y2="45.30" stroke="#23427f" stroke-width="1" />
<circle cx="116.60" cy="45.30" r="2.7" fill="#23427f"/>
<text x="124.20" y="48.00" font-size="9.00" text-anchor="start" fill="#262626" stroke="#262626" stroke-width="0.18" textLength="10.42" lengthAdjust="spacingAndGlyphs" >TG</text>
<line x1="112.00" y1="55.05" x2="121.20" y2="55.05" stroke="#5064a3" stroke-width="1" />
<circle cx="116.60" cy="55.05" r="2.5" fill="none" stroke="#5064a3" stroke-width="0.9"/>
<text x="124.20" y="57.75" font-size="9.00" text-anchor="start" fill="#262626" stroke="#262626" stroke-width="0.18" textLength="10.84" lengthAdjust="spacingAndGlyphs" >PG</text>
<line x1="112.00" y1="64.80" x2="121.20" y2="64.80" stroke="#b8bddb" stroke-width="1" />
<path d="M116.60,62.20 L119.20,66.70 L114.00,66.70Z" fill="#b8bddb"/>
<text x="124.20" y="67.50" font-size="9.00" text-anchor="start" fill="#262626" stroke="#262626" stroke-width="0.18" textLength="29.2" lengthAdjust="spacingAndGlyphs" >Turbidity</text>
<line x1="335.00" y1="42.50" x2="344.20" y2="42.50" stroke="#a6082c" stroke-width="1" />
<circle cx="339.60" cy="42.50" r="2.7" fill="#a6082c"/>
<text x="347.20" y="45.20" font-size="9.00" text-anchor="start" fill="#262626" stroke="#262626" stroke-width="0.18" textLength="10.42" lengthAdjust="spacingAndGlyphs" >TG</text>
<line x1="335.00" y1="52.25" x2="344.20" y2="52.25" stroke="#bb4a44" stroke-width="1" />
<circle cx="339.60" cy="52.25" r="2.5" fill="none" stroke="#bb4a44" stroke-width="0.9"/>
<text x="347.20" y="54.95" font-size="9.00" text-anchor="start" fill="#262626" stroke="#262626" stroke-width="0.18" textLength="10.84" lengthAdjust="spacingAndGlyphs" >PG</text>
<line x1="335.00" y1="62.00" x2="344.20" y2="62.00" stroke="#e5bcae" stroke-width="1" />
<path d="M339.60,59.40 L342.20,63.90 L337.00,63.90Z" fill="#e5bcae"/>
<text x="347.20" y="64.70" font-size="9.00" text-anchor="start" fill="#262626" stroke="#262626" stroke-width="0.18" textLength="29.2" lengthAdjust="spacingAndGlyphs" >Turbidity</text>
<rect x="46.40" y="233.50" width="20" height="47.70" fill="#bcbfd6"/>
<rect x="78.10" y="267.50" width="20" height="13.70" fill="#e3bfb3"/>
<rect x="110.00" y="255.70" width="20" height="25.50" fill="#bcbfd6"/>
<rect x="141.80" y="271.20" width="20" height="10.00" fill="#e3bfb3"/>
<line x1="103.80" y1="197.50" x2="103.80" y2="280.70" stroke="#444" stroke-width="0.8" stroke-dasharray="3.15 2.1"/>
<line x1="40.50" y1="194.00" x2="40.50" y2="281.70" stroke="#2b2b2b" stroke-width="1" />
<line x1="40.00" y1="281.20" x2="167.50" y2="281.20" stroke="#2b2b2b" stroke-width="1" />
<line x1="37.50" y1="281.20" x2="40.50" y2="281.20" stroke="#2b2b2b" stroke-width="1" />
<text x="34.30" y="284.00" font-size="9.60" text-anchor="end" fill="#262626" stroke="#262626" stroke-width="0.18" textLength="11.12" lengthAdjust="spacingAndGlyphs" >0.0</text>
<line x1="37.50" y1="260.08" x2="40.50" y2="260.08" stroke="#2b2b2b" stroke-width="1" />
<text x="34.30" y="262.88" font-size="9.60" text-anchor="end" fill="#262626" stroke="#262626" stroke-width="0.18" textLength="11.12" lengthAdjust="spacingAndGlyphs" >0.2</text>
<line x1="37.50" y1="238.96" x2="40.50" y2="238.96" stroke="#2b2b2b" stroke-width="1" />
<text x="34.30" y="241.76" font-size="9.60" text-anchor="end" fill="#262626" stroke="#262626" stroke-width="0.18" textLength="11.12" lengthAdjust="spacingAndGlyphs" >0.4</text>
<line x1="37.50" y1="217.84" x2="40.50" y2="217.84" stroke="#2b2b2b" stroke-width="1" />
<text x="34.30" y="220.64" font-size="9.60" text-anchor="end" fill="#262626" stroke="#262626" stroke-width="0.18" textLength="11.12" lengthAdjust="spacingAndGlyphs" >0.6</text>
<line x1="37.50" y1="196.72" x2="40.50" y2="196.72" stroke="#2b2b2b" stroke-width="1" />
<text x="34.30" y="199.52" font-size="9.60" text-anchor="end" fill="#262626" stroke="#262626" stroke-width="0.18" textLength="11.12" lengthAdjust="spacingAndGlyphs" >0.8</text>
<line x1="56.40" y1="281.20" x2="56.40" y2="284.20" stroke="#2b2b2b" stroke-width="1" />
<line x1="88.10" y1="281.20" x2="88.10" y2="284.20" stroke="#2b2b2b" stroke-width="1" />
<line x1="120.00" y1="281.20" x2="120.00" y2="284.20" stroke="#2b2b2b" stroke-width="1" />
<line x1="151.80" y1="281.20" x2="151.80" y2="284.20" stroke="#2b2b2b" stroke-width="1" />
<circle cx="47.50" cy="228.50" r="2.3" fill="none" stroke="#3b5b9c" stroke-width="1.0"/>
<circle cx="64.50" cy="228.50" r="2.3" fill="none" stroke="#3b5b9c" stroke-width="1.0"/>
<circle cx="56.00" cy="232.00" r="2.3" fill="none" stroke="#3b5b9c" stroke-width="1.0"/>
<circle cx="56.00" cy="237.00" r="2.3" fill="none" stroke="#3b5b9c" stroke-width="1.0"/>
<circle cx="56.00" cy="250.00" r="2.3" fill="none" stroke="#3b5b9c" stroke-width="1.0"/>
<circle cx="87.50" cy="256.00" r="2.3" fill="none" stroke="#c02c4c" stroke-width="1.0"/>
<circle cx="87.50" cy="261.00" r="2.3" fill="none" stroke="#c02c4c" stroke-width="1.0"/>
<circle cx="83.50" cy="267.00" r="2.3" fill="none" stroke="#c02c4c" stroke-width="1.0"/>
<circle cx="91.50" cy="267.00" r="2.3" fill="none" stroke="#c02c4c" stroke-width="1.0"/>
<circle cx="87.50" cy="273.50" r="2.3" fill="none" stroke="#c02c4c" stroke-width="1.0"/>
<circle cx="111.20" cy="252.10" r="2.55" fill="#1f3f7f"/>
<circle cx="111.20" cy="258.80" r="2.55" fill="#1f3f7f"/>
<circle cx="119.40" cy="255.10" r="2.55" fill="#1f3f7f"/>
<circle cx="128.20" cy="249.70" r="2.55" fill="#1f3f7f"/>
<circle cx="128.20" cy="255.10" r="2.55" fill="#1f3f7f"/>
<circle cx="143.00" cy="262.80" r="2.55" fill="#a8062c"/>
<circle cx="143.00" cy="272.90" r="2.55" fill="#a8062c"/>
<circle cx="151.40" cy="265.20" r="2.55" fill="#a8062c"/>
<circle cx="151.40" cy="270.30" r="2.55" fill="#a8062c"/>
<circle cx="159.90" cy="272.90" r="2.55" fill="#a8062c"/>
<text x="8.30" y="174.50" font-size="11.20" text-anchor="start" fill="#000" font-weight="bold" >C</text>
<text x="104.00" y="188.50" font-size="10.20" text-anchor="middle" fill="#262626" stroke="#262626" stroke-width="0.18" textLength="34.6" lengthAdjust="spacingAndGlyphs" style="stroke-width:0.32">Lagtime</text>
<text x="17.00" y="237.60" font-size="9.60" text-anchor="start" fill="#262626" stroke="#262626" stroke-width="0.18" ></text>
<line x1="53.00" y1="214.20" x2="88.00" y2="214.20" stroke="#333" stroke-width="1.2" />
<text x="70.30" y="210.60" font-size="8.86" text-anchor="middle" fill="#2a2a2a" stroke="#2a2a2a" stroke-width="0.18" font-style="italic" textLength="28.0" lengthAdjust="spacingAndGlyphs" >P&lt;0.001</text>
<line x1="115.00" y1="214.20" x2="150.60" y2="214.20" stroke="#333" stroke-width="1.2" />
<text x="132.60" y="210.60" font-size="8.86" text-anchor="middle" fill="#2a2a2a" stroke="#2a2a2a" stroke-width="0.18" font-style="italic" textLength="28.0" lengthAdjust="spacingAndGlyphs" >P&lt;0.001</text>
<text x="56.40" y="294.40" font-size="9.96" text-anchor="middle" fill="#262626" stroke="#262626" stroke-width="0.18" textLength="11.99" lengthAdjust="spacingAndGlyphs" >CD</text>
<text x="88.10" y="294.40" font-size="9.96" text-anchor="middle" fill="#262626" stroke="#262626" stroke-width="0.18" textLength="17.06" lengthAdjust="spacingAndGlyphs" >HFD</text>
<text x="120.00" y="294.40" font-size="9.96" text-anchor="middle" fill="#262626" stroke="#262626" stroke-width="0.18" textLength="11.99" lengthAdjust="spacingAndGlyphs" >CD</text>
<text x="151.80" y="294.40" font-size="9.96" text-anchor="middle" fill="#262626" stroke="#262626" stroke-width="0.18" textLength="17.06" lengthAdjust="spacingAndGlyphs" >HFD</text>
<line x1="51.20" y1="297.90" x2="95.40" y2="297.90" stroke="#5a5a5a" stroke-width="1.5" />
<text x="73.30" y="306.10" font-size="9.96" text-anchor="middle" fill="#262626" stroke="#262626" stroke-width="0.18" textLength="36.8" lengthAdjust="spacingAndGlyphs" >0.5 pM TF</text>
<line x1="113.90" y1="297.90" x2="158.50" y2="297.90" stroke="#5a5a5a" stroke-width="1.5" />
<text x="136.20" y="306.10" font-size="9.96" text-anchor="middle" fill="#262626" stroke="#262626" stroke-width="0.18" textLength="30.2" lengthAdjust="spacingAndGlyphs" >2 pM TF</text>
<rect x="219.20" y="243.00" width="20" height="38.50" fill="#bcbfd6"/>
<rect x="250.90" y="263.10" width="20" height="18.40" fill="#e3bfb3"/>
<rect x="282.80" y="253.00" width="20" height="28.50" fill="#bcbfd6"/>
<rect x="314.60" y="269.00" width="20" height="12.50" fill="#e3bfb3"/>
<line x1="276.60" y1="197.50" x2="276.60" y2="281.00" stroke="#444" stroke-width="0.8" stroke-dasharray="3.15 2.1"/>
<line x1="213.30" y1="194.00" x2="213.30" y2="282.00" stroke="#2b2b2b" stroke-width="1" />
<line x1="212.80" y1="281.50" x2="340.30" y2="281.50" stroke="#2b2b2b" stroke-width="1" />
<line x1="210.30" y1="281.50" x2="213.30" y2="281.50" stroke="#2b2b2b" stroke-width="1" />
<text x="207.10" y="284.30" font-size="9.60" text-anchor="end" fill="#262626" stroke="#262626" stroke-width="0.18" textLength="11.12" lengthAdjust="spacingAndGlyphs" >0.0</text>
<line x1="210.30" y1="253.20" x2="213.30" y2="253.20" stroke="#2b2b2b" stroke-width="1" />
<text x="207.10" y="256.00" font-size="9.60" text-anchor="end" fill="#262626" stroke="#262626" stroke-width="0.18" textLength="11.12" lengthAdjust="spacingAndGlyphs" >0.2</text>
<line x1="210.30" y1="224.90" x2="213.30" y2="224.90" stroke="#2b2b2b" stroke-width="1" />
<text x="207.10" y="227.70" font-size="9.60" text-anchor="end" fill="#262626" stroke="#262626" stroke-width="0.18" textLength="11.12" lengthAdjust="spacingAndGlyphs" >0.4</text>
<line x1="210.30" y1="196.60" x2="213.30" y2="196.60" stroke="#2b2b2b" stroke-width="1" />
<text x="207.10" y="199.40" font-size="9.60" text-anchor="end" fill="#262626" stroke="#262626" stroke-width="0.18" textLength="11.12" lengthAdjust="spacingAndGlyphs" >0.6</text>
<line x1="229.20" y1="281.50" x2="229.20" y2="284.50" stroke="#2b2b2b" stroke-width="1" />
<line x1="260.90" y1="281.50" x2="260.90" y2="284.50" stroke="#2b2b2b" stroke-width="1" />
<line x1="292.80" y1="281.50" x2="292.80" y2="284.50" stroke="#2b2b2b" stroke-width="1" />
<line x1="324.60" y1="281.50" x2="324.60" y2="284.50" stroke="#2b2b2b" stroke-width="1" />
<circle cx="229.10" cy="227.70" r="2.3" fill="none" stroke="#3b5b9c" stroke-width="1.0"/>
<circle cx="229.10" cy="238.10" r="2.3" fill="none" stroke="#3b5b9c" stroke-width="1.0"/>
<circle cx="224.60" cy="242.60" r="2.3" fill="none" stroke="#3b5b9c" stroke-width="1.0"/>
<circle cx="233.50" cy="243.80" r="2.3" fill="none" stroke="#3b5b9c" stroke-width="1.0"/>
<circle cx="229.10" cy="253.40" r="2.3" fill="none" stroke="#3b5b9c" stroke-width="1.0"/>
<circle cx="252.10" cy="260.90" r="2.3" fill="none" stroke="#c02c4c" stroke-width="1.0"/>
<circle cx="258.10" cy="260.40" r="2.3" fill="none" stroke="#c02c4c" stroke-width="1.0"/>
<circle cx="258.10" cy="265.80" r="2.3" fill="none" stroke="#c02c4c" stroke-width="1.0"/>
<circle cx="263.60" cy="263.40" r="2.3" fill="none" stroke="#c02c4c" stroke-width="1.0"/>
<circle cx="269.20" cy="260.90" r="2.3" fill="none" stroke="#c02c4c" stroke-width="1.0"/>
<circle cx="288.60" cy="247.50" r="2.55" fill="#1f3f7f"/>
<circle cx="288.60" cy="252.70" r="2.55" fill="#1f3f7f"/>
<circle cx="288.60" cy="259.40" r="2.55" fill="#1f3f7f"/>
<circle cx="296.80" cy="245.00" r="2.55" fill="#1f3f7f"/>
<circle cx="296.80" cy="256.10" r="2.55" fill="#1f3f7f"/>
<circle cx="315.80" cy="263.80" r="2.55" fill="#a8062c"/>
<circle cx="315.80" cy="269.30" r="2.55" fill="#a8062c"/>
<circle cx="321.60" cy="266.80" r="2.55" fill="#a8062c"/>
<circle cx="327.30" cy="268.70" r="2.55" fill="#a8062c"/>
<circle cx="332.80" cy="267.80" r="2.55" fill="#a8062c"/>
<text x="180.00" y="174.20" font-size="11.20" text-anchor="start" fill="#000" font-weight="bold" >D</text>
<text x="276.50" y="188.40" font-size="10.20" text-anchor="middle" fill="#262626" stroke="#262626" stroke-width="0.18" textLength="30.0" lengthAdjust="spacingAndGlyphs" style="stroke-width:0.32">TtPeak</text>
<text x="189.80" y="237.75" font-size="9.60" text-anchor="start" fill="#262626" stroke="#262626" stroke-width="0.18" ></text>
<line x1="225.90" y1="214.20" x2="260.70" y2="214.20" stroke="#333" stroke-width="1.2" />
<text x="243.10" y="210.60" font-size="8.86" text-anchor="middle" fill="#2a2a2a" stroke="#2a2a2a" stroke-width="0.18" font-style="italic" textLength="28.0" lengthAdjust="spacingAndGlyphs" >P&lt;0.001</text>
<line x1="288.10" y1="214.20" x2="323.40" y2="214.20" stroke="#333" stroke-width="1.2" />
<text x="305.55" y="210.60" font-size="8.86" text-anchor="middle" fill="#2a2a2a" stroke="#2a2a2a" stroke-width="0.18" font-style="italic" textLength="28.0" lengthAdjust="spacingAndGlyphs" >P&lt;0.001</text>
<text x="229.20" y="294.40" font-size="9.96" text-anchor="middle" fill="#262626" stroke="#262626" stroke-width="0.18" textLength="11.99" lengthAdjust="spacingAndGlyphs" >CD</text>
<text x="260.90" y="294.40" font-size="9.96" text-anchor="middle" fill="#262626" stroke="#262626" stroke-width="0.18" textLength="17.06" lengthAdjust="spacingAndGlyphs" >HFD</text>
<text x="292.80" y="294.40" font-size="9.96" text-anchor="middle" fill="#262626" stroke="#262626" stroke-width="0.18" textLength="11.99" lengthAdjust="spacingAndGlyphs" >CD</text>
<text x="324.60" y="294.40" font-size="9.96" text-anchor="middle" fill="#262626" stroke="#262626" stroke-width="0.18" textLength="17.06" lengthAdjust="spacingAndGlyphs" >HFD</text>
<line x1="224.00" y1="297.90" x2="268.20" y2="297.90" stroke="#5a5a5a" stroke-width="1.5" />
<text x="246.10" y="306.10" font-size="9.96" text-anchor="middle" fill="#262626" stroke="#262626" stroke-width="0.18" textLength="36.8" lengthAdjust="spacingAndGlyphs" >0.5 pM TF</text>
<line x1="286.70" y1="297.90" x2="331.30" y2="297.90" stroke="#5a5a5a" stroke-width="1.5" />
<text x="309.00" y="306.10" font-size="9.96" text-anchor="middle" fill="#262626" stroke="#262626" stroke-width="0.18" textLength="30.2" lengthAdjust="spacingAndGlyphs" >2 pM TF</text>
<rect x="391.40" y="279.30" width="20" height="2.10" fill="#bcbfd6"/>
<rect x="423.10" y="257.90" width="20" height="23.50" fill="#e3bfb3"/>
<rect x="455.00" y="278.00" width="20" height="3.40" fill="#bcbfd6"/>
<rect x="486.80" y="245.00" width="20" height="36.40" fill="#e3bfb3"/>
<line x1="448.80" y1="197.50" x2="448.80" y2="280.90" stroke="#8a8a8a" stroke-width="1.6" stroke-dasharray="3.15 2.1"/>
<line x1="385.50" y1="194.00" x2="385.50" y2="281.90" stroke="#2b2b2b" stroke-width="1" />
<line x1="385.00" y1="281.40" x2="512.50" y2="281.40" stroke="#2b2b2b" stroke-width="1" />
<line x1="382.50" y1="281.40" x2="385.50" y2="281.40" stroke="#2b2b2b" stroke-width="1" />
<text x="379.30" y="284.20" font-size="9.60" text-anchor="end" fill="#262626" stroke="#262626" stroke-width="0.18" textLength="4.45" lengthAdjust="spacingAndGlyphs" >0</text>
<line x1="382.50" y1="253.10" x2="385.50" y2="253.10" stroke="#2b2b2b" stroke-width="1" />
<text x="379.30" y="255.90" font-size="9.60" text-anchor="end" fill="#262626" stroke="#262626" stroke-width="0.18" textLength="8.9" lengthAdjust="spacingAndGlyphs" >50</text>
<line x1="382.50" y1="224.80" x2="385.50" y2="224.80" stroke="#2b2b2b" stroke-width="1" />
<text x="379.30" y="227.60" font-size="9.60" text-anchor="end" fill="#262626" stroke="#262626" stroke-width="0.18" textLength="13.35" lengthAdjust="spacingAndGlyphs" >100</text>
<line x1="382.50" y1="196.50" x2="385.50" y2="196.50" stroke="#2b2b2b" stroke-width="1" />
<text x="379.30" y="199.30" font-size="9.60" text-anchor="end" fill="#262626" stroke="#262626" stroke-width="0.18" textLength="13.35" lengthAdjust="spacingAndGlyphs" >150</text>
<line x1="401.40" y1="281.40" x2="401.40" y2="284.40" stroke="#2b2b2b" stroke-width="1" />
<line x1="433.10" y1="281.40" x2="433.10" y2="284.40" stroke="#2b2b2b" stroke-width="1" />
<line x1="465.00" y1="281.40" x2="465.00" y2="284.40" stroke="#2b2b2b" stroke-width="1" />
<line x1="496.80" y1="281.40" x2="496.80" y2="284.40" stroke="#2b2b2b" stroke-width="1" />
<circle cx="393.20" cy="279.10" r="2.3" fill="none" stroke="#3b5b9c" stroke-width="1.0"/>
<circle cx="397.60" cy="276.20" r="2.3" fill="none" stroke="#3b5b9c" stroke-width="1.0"/>
<circle cx="401.60" cy="279.10" r="2.3" fill="none" stroke="#3b5b9c" stroke-width="1.0"/>
<circle cx="405.80" cy="278.70" r="2.3" fill="none" stroke="#3b5b9c" stroke-width="1.0"/>
<circle cx="410.30" cy="279.40" r="2.3" fill="none" stroke="#3b5b9c" stroke-width="1.0"/>
<circle cx="433.30" cy="241.50" r="2.3" fill="none" stroke="#c02c4c" stroke-width="1.0"/>
<circle cx="429.30" cy="256.80" r="2.3" fill="none" stroke="#c02c4c" stroke-width="1.0"/>
<circle cx="429.30" cy="263.80" r="2.3" fill="none" stroke="#c02c4c" stroke-width="1.0"/>
<circle cx="437.30" cy="254.60" r="2.3" fill="none" stroke="#c02c4c" stroke-width="1.0"/>
<circle cx="437.30" cy="260.90" r="2.3" fill="none" stroke="#c02c4c" stroke-width="1.0"/>
<circle cx="456.90" cy="278.00" r="2.55" fill="#1f3f7f"/>
<circle cx="462.40" cy="273.80" r="2.55" fill="#1f3f7f"/>
<circle cx="465.40" cy="268.30" r="2.55" fill="#1f3f7f"/>
<circle cx="468.10" cy="277.20" r="2.55" fill="#1f3f7f"/>
<circle cx="474.00" cy="276.50" r="2.55" fill="#1f3f7f"/>
<circle cx="497.00" cy="226.70" r="2.55" fill="#a8062c"/>
<circle cx="492.60" cy="244.10" r="2.55" fill="#a8062c"/>
<circle cx="501.20" cy="242.00" r="2.55" fill="#a8062c"/>
<circle cx="497.00" cy="260.10" r="2.55" fill="#a8062c"/>
<circle cx="497.00" cy="269.00" r="2.55" fill="#a8062c"/>
<text x="355.00" y="174.20" font-size="11.20" text-anchor="start" fill="#000" font-weight="bold" >E</text>
<text x="449.00" y="188.50" font-size="10.20" text-anchor="middle" fill="#262626" stroke="#262626" stroke-width="0.18" textLength="33.7" lengthAdjust="spacingAndGlyphs" style="stroke-width:0.32">Velocity</text>
<text x="362.00" y="237.70" font-size="9.60" text-anchor="start" fill="#262626" stroke="#262626" stroke-width="0.18" ></text>
<line x1="398.50" y1="214.20" x2="433.70" y2="214.20" stroke="#333" stroke-width="1.2" />
<text x="415.90" y="210.60" font-size="8.86" text-anchor="middle" fill="#2a2a2a" stroke="#2a2a2a" stroke-width="0.18" font-style="italic" textLength="28.0" lengthAdjust="spacingAndGlyphs" >P&lt;0.001</text>
<line x1="461.00" y1="214.20" x2="495.80" y2="214.20" stroke="#333" stroke-width="1.2" />
<text x="478.20" y="210.60" font-size="8.86" text-anchor="middle" fill="#2a2a2a" stroke="#2a2a2a" stroke-width="0.18" font-style="italic" textLength="28.0" lengthAdjust="spacingAndGlyphs" >P=0.008</text>
<text x="401.40" y="294.40" font-size="9.96" text-anchor="middle" fill="#262626" stroke="#262626" stroke-width="0.18" textLength="11.99" lengthAdjust="spacingAndGlyphs" >CD</text>
<text x="433.10" y="294.40" font-size="9.96" text-anchor="middle" fill="#262626" stroke="#262626" stroke-width="0.18" textLength="17.06" lengthAdjust="spacingAndGlyphs" >HFD</text>
<text x="465.00" y="294.40" font-size="9.96" text-anchor="middle" fill="#262626" stroke="#262626" stroke-width="0.18" textLength="11.99" lengthAdjust="spacingAndGlyphs" >CD</text>
<text x="496.80" y="294.40" font-size="9.96" text-anchor="middle" fill="#262626" stroke="#262626" stroke-width="0.18" textLength="17.06" lengthAdjust="spacingAndGlyphs" >HFD</text>
<line x1="396.20" y1="297.90" x2="440.40" y2="297.90" stroke="#5a5a5a" stroke-width="1.5" />
<text x="418.30" y="306.10" font-size="9.96" text-anchor="middle" fill="#262626" stroke="#262626" stroke-width="0.18" textLength="36.8" lengthAdjust="spacingAndGlyphs" >0.5 pM TF</text>
<line x1="458.90" y1="297.90" x2="503.50" y2="297.90" stroke="#5a5a5a" stroke-width="1.5" />
<text x="481.20" y="306.10" font-size="9.96" text-anchor="middle" fill="#262626" stroke="#262626" stroke-width="0.18" textLength="30.2" lengthAdjust="spacingAndGlyphs" >2 pM TF</text>
<rect x="46.90" y="411.60" width="20" height="25.80" fill="#bcbfd6"/>
<rect x="78.60" y="411.20" width="20" height="26.20" fill="#e3bfb3"/>
<rect x="110.50" y="397.80" width="20" height="39.60" fill="#bcbfd6"/>
<rect x="142.30" y="393.80" width="20" height="43.60" fill="#e3bfb3"/>
<line x1="104.30" y1="353.40" x2="104.30" y2="436.90" stroke="#444" stroke-width="0.8" stroke-dasharray="3.15 2.1"/>
<line x1="41.00" y1="349.90" x2="41.00" y2="437.90" stroke="#2b2b2b" stroke-width="1" />
<line x1="40.50" y1="437.40" x2="168.00" y2="437.40" stroke="#2b2b2b" stroke-width="1" />
<line x1="38.00" y1="437.40" x2="41.00" y2="437.40" stroke="#2b2b2b" stroke-width="1" />
<text x="34.80" y="440.20" font-size="9.60" text-anchor="end" fill="#262626" stroke="#262626" stroke-width="0.18" textLength="4.45" lengthAdjust="spacingAndGlyphs" >0</text>
<line x1="38.00" y1="416.05" x2="41.00" y2="416.05" stroke="#2b2b2b" stroke-width="1" />
<text x="34.80" y="418.85" font-size="9.60" text-anchor="end" fill="#262626" stroke="#262626" stroke-width="0.18" textLength="4.45" lengthAdjust="spacingAndGlyphs" >1</text>
<line x1="38.00" y1="394.70" x2="41.00" y2="394.70" stroke="#2b2b2b" stroke-width="1" />
<text x="34.80" y="397.50" font-size="9.60" text-anchor="end" fill="#262626" stroke="#262626" stroke-width="0.18" textLength="4.45" lengthAdjust="spacingAndGlyphs" >2</text>
<line x1="38.00" y1="373.35" x2="41.00" y2="373.35" stroke="#2b2b2b" stroke-width="1" />
<text x="34.80" y="376.15" font-size="9.60" text-anchor="end" fill="#262626" stroke="#262626" stroke-width="0.18" textLength="4.45" lengthAdjust="spacingAndGlyphs" >3</text>
<line x1="38.00" y1="352.00" x2="41.00" y2="352.00" stroke="#2b2b2b" stroke-width="1" />
<text x="34.80" y="354.80" font-size="9.60" text-anchor="end" fill="#262626" stroke="#262626" stroke-width="0.18" textLength="4.45" lengthAdjust="spacingAndGlyphs" >4</text>
<line x1="56.90" y1="437.40" x2="56.90" y2="440.40" stroke="#2b2b2b" stroke-width="1" />
<line x1="88.60" y1="437.40" x2="88.60" y2="440.40" stroke="#2b2b2b" stroke-width="1" />
<line x1="120.50" y1="437.40" x2="120.50" y2="440.40" stroke="#2b2b2b" stroke-width="1" />
<line x1="152.30" y1="437.40" x2="152.30" y2="440.40" stroke="#2b2b2b" stroke-width="1" />
<circle cx="48.60" cy="409.00" r="2.3" fill="none" stroke="#3b5b9c" stroke-width="1.0"/>
<circle cx="48.60" cy="413.40" r="2.3" fill="none" stroke="#3b5b9c" stroke-width="1.0"/>
<circle cx="60.10" cy="408.20" r="2.3" fill="none" stroke="#3b5b9c" stroke-width="1.0"/>
<circle cx="60.10" cy="413.10" r="2.3" fill="none" stroke="#3b5b9c" stroke-width="1.0"/>
<circle cx="65.60" cy="411.20" r="2.3" fill="none" stroke="#3b5b9c" stroke-width="1.0"/>
<circle cx="80.40" cy="412.00" r="2.3" fill="none" stroke="#c02c4c" stroke-width="1.0"/>
<circle cx="86.10" cy="409.70" r="2.3" fill="none" stroke="#c02c4c" stroke-width="1.0"/>
<circle cx="89.00" cy="399.00" r="2.3" fill="none" stroke="#c02c4c" stroke-width="1.0"/>
<circle cx="91.70" cy="410.50" r="2.3" fill="none" stroke="#c02c4c" stroke-width="1.0"/>
<circle cx="97.20" cy="409.70" r="2.3" fill="none" stroke="#c02c4c" stroke-width="1.0"/>
<circle cx="112.50" cy="395.80" r="2.55" fill="#1f3f7f"/>
<circle cx="112.50" cy="404.50" r="2.55" fill="#1f3f7f"/>
<circle cx="120.80" cy="397.30" r="2.55" fill="#1f3f7f"/>
<circle cx="129.30" cy="395.80" r="2.55" fill="#1f3f7f"/>
<circle cx="129.30" cy="400.80" r="2.55" fill="#1f3f7f"/>
<circle cx="152.60" cy="361.40" r="2.55" fill="#a8062c"/>
<circle cx="152.60" cy="384.20" r="2.55" fill="#a8062c"/>
<circle cx="148.30" cy="393.10" r="2.55" fill="#a8062c"/>
<circle cx="148.30" cy="397.80" r="2.55" fill="#a8062c"/>
<circle cx="156.70" cy="395.80" r="2.55" fill="#a8062c"/>
<text x="9.00" y="330.50" font-size="11.20" text-anchor="start" fill="#000" font-weight="bold" >F</text>
<text x="105.00" y="343.90" font-size="10.20" text-anchor="middle" fill="#262626" stroke="#262626" stroke-width="0.18" textLength="21.0" lengthAdjust="spacingAndGlyphs" style="stroke-width:0.32">Peak</text>
<text x="17.50" y="393.65" font-size="9.60" text-anchor="start" fill="#262626" stroke="#262626" stroke-width="0.18" ></text>
<text x="56.90" y="450.50" font-size="9.96" text-anchor="middle" fill="#262626" stroke="#262626" stroke-width="0.18" textLength="11.99" lengthAdjust="spacingAndGlyphs" >CD</text>
<text x="88.60" y="450.50" font-size="9.96" text-anchor="middle" fill="#262626" stroke="#262626" stroke-width="0.18" textLength="17.06" lengthAdjust="spacingAndGlyphs" >HFD</text>
<text x="120.50" y="450.50" font-size="9.96" text-anchor="middle" fill="#262626" stroke="#262626" stroke-width="0.18" textLength="11.99" lengthAdjust="spacingAndGlyphs" >CD</text>
<text x="152.30" y="450.50" font-size="9.96" text-anchor="middle" fill="#262626" stroke="#262626" stroke-width="0.18" textLength="17.06" lengthAdjust="spacingAndGlyphs" >HFD</text>
<line x1="51.70" y1="454.00" x2="95.90" y2="454.00" stroke="#5a5a5a" stroke-width="1.5" />
<text x="73.80" y="462.20" font-size="9.96" text-anchor="middle" fill="#262626" stroke="#262626" stroke-width="0.18" textLength="36.8" lengthAdjust="spacingAndGlyphs" >0.5 pM TF</text>
<line x1="114.40" y1="454.00" x2="159.00" y2="454.00" stroke="#5a5a5a" stroke-width="1.5" />
<text x="136.70" y="462.20" font-size="9.96" text-anchor="middle" fill="#262626" stroke="#262626" stroke-width="0.18" textLength="30.2" lengthAdjust="spacingAndGlyphs" >2 pM TF</text>
<rect x="218.20" y="376.00" width="20" height="61.40" fill="#bcbfd6"/>
<rect x="249.90" y="374.10" width="20" height="63.30" fill="#e3bfb3"/>
<rect x="281.80" y="374.80" width="20" height="62.60" fill="#bcbfd6"/>
<rect x="313.60" y="372.30" width="20" height="65.10" fill="#e3bfb3"/>
<line x1="275.60" y1="353.40" x2="275.60" y2="436.90" stroke="#444" stroke-width="0.8" stroke-dasharray="3.15 2.1"/>
<line x1="212.30" y1="349.90" x2="212.30" y2="437.90" stroke="#2b2b2b" stroke-width="1" />
<line x1="211.80" y1="437.40" x2="339.30" y2="437.40" stroke="#2b2b2b" stroke-width="1" />
<line x1="209.30" y1="437.40" x2="212.30" y2="437.40" stroke="#2b2b2b" stroke-width="1" />
<text x="206.10" y="440.20" font-size="9.60" text-anchor="end" fill="#262626" stroke="#262626" stroke-width="0.18" textLength="11.12" lengthAdjust="spacingAndGlyphs" >0.0</text>
<line x1="209.30" y1="420.40" x2="212.30" y2="420.40" stroke="#2b2b2b" stroke-width="1" />
<text x="206.10" y="423.20" font-size="9.60" text-anchor="end" fill="#262626" stroke="#262626" stroke-width="0.18" textLength="11.12" lengthAdjust="spacingAndGlyphs" >0.2</text>
<line x1="209.30" y1="403.40" x2="212.30" y2="403.40" stroke="#2b2b2b" stroke-width="1" />
<text x="206.10" y="406.20" font-size="9.60" text-anchor="end" fill="#262626" stroke="#262626" stroke-width="0.18" textLength="11.12" lengthAdjust="spacingAndGlyphs" >0.4</text>
<line x1="209.30" y1="386.40" x2="212.30" y2="386.40" stroke="#2b2b2b" stroke-width="1" />
<text x="206.10" y="389.20" font-size="9.60" text-anchor="end" fill="#262626" stroke="#262626" stroke-width="0.18" textLength="11.12" lengthAdjust="spacingAndGlyphs" >0.6</text>
<line x1="209.30" y1="369.40" x2="212.30" y2="369.40" stroke="#2b2b2b" stroke-width="1" />
<text x="206.10" y="372.20" font-size="9.60" text-anchor="end" fill="#262626" stroke="#262626" stroke-width="0.18" textLength="11.12" lengthAdjust="spacingAndGlyphs" >0.8</text>
<line x1="209.30" y1="352.40" x2="212.30" y2="352.40" stroke="#2b2b2b" stroke-width="1" />
<text x="206.10" y="355.20" font-size="9.60" text-anchor="end" fill="#262626" stroke="#262626" stroke-width="0.18" textLength="11.12" lengthAdjust="spacingAndGlyphs" >1.0</text>
<line x1="228.20" y1="437.40" x2="228.20" y2="440.40" stroke="#2b2b2b" stroke-width="1" />
<line x1="259.90" y1="437.40" x2="259.90" y2="440.40" stroke="#2b2b2b" stroke-width="1" />
<line x1="291.80" y1="437.40" x2="291.80" y2="440.40" stroke="#2b2b2b" stroke-width="1" />
<line x1="323.60" y1="437.40" x2="323.60" y2="440.40" stroke="#2b2b2b" stroke-width="1" />
<circle cx="219.20" cy="373.30" r="2.3" fill="none" stroke="#3b5b9c" stroke-width="1.0"/>
<circle cx="227.80" cy="367.80" r="2.3" fill="none" stroke="#3b5b9c" stroke-width="1.0"/>
<circle cx="227.80" cy="375.60" r="2.3" fill="none" stroke="#3b5b9c" stroke-width="1.0"/>
<circle cx="227.80" cy="380.50" r="2.3" fill="none" stroke="#3b5b9c" stroke-width="1.0"/>
<circle cx="236.40" cy="375.00" r="2.3" fill="none" stroke="#3b5b9c" stroke-width="1.0"/>
<circle cx="259.80" cy="362.60" r="2.3" fill="none" stroke="#c02c4c" stroke-width="1.0"/>
<circle cx="259.80" cy="369.30" r="2.3" fill="none" stroke="#c02c4c" stroke-width="1.0"/>
<circle cx="256.40" cy="373.30" r="2.3" fill="none" stroke="#c02c4c" stroke-width="1.0"/>
<circle cx="263.20" cy="375.70" r="2.3" fill="none" stroke="#c02c4c" stroke-width="1.0"/>
<circle cx="259.80" cy="386.70" r="2.3" fill="none" stroke="#c02c4c" stroke-width="1.0"/>
<circle cx="291.50" cy="363.40" r="2.55" fill="#1f3f7f"/>
<circle cx="291.50" cy="369.00" r="2.55" fill="#1f3f7f"/>
<circle cx="288.10" cy="373.80" r="2.55" fill="#1f3f7f"/>
<circle cx="294.80" cy="377.20" r="2.55" fill="#1f3f7f"/>
<circle cx="291.50" cy="383.70" r="2.55" fill="#1f3f7f"/>
<circle cx="323.30" cy="361.10" r="2.55" fill="#a8062c"/>
<circle cx="323.30" cy="366.00" r="2.55" fill="#a8062c"/>
<circle cx="320.10" cy="372.00" r="2.55" fill="#a8062c"/>
<circle cx="326.70" cy="372.30" r="2.55" fill="#a8062c"/>
<circle cx="323.30" cy="376.00" r="2.55" fill="#a8062c"/>
<text x="180.00" y="330.20" font-size="11.20" text-anchor="start" fill="#000" font-weight="bold" >G</text>
<text x="275.70" y="344.10" font-size="10.20" text-anchor="middle" fill="#262626" stroke="#262626" stroke-width="0.18" textLength="37.6" lengthAdjust="spacingAndGlyphs" style="stroke-width:0.32">ETP/EPP</text>
<text x="188.80" y="393.65" font-size="9.60" text-anchor="start" fill="#262626" stroke="#262626" stroke-width="0.18" ></text>
<text x="228.20" y="450.50" font-size="9.96" text-anchor="middle" fill="#262626" stroke="#262626" stroke-width="0.18" textLength="11.99" lengthAdjust="spacingAndGlyphs" >CD</text>
<text x="259.90" y="450.50" font-size="9.96" text-anchor="middle" fill="#262626" stroke="#262626" stroke-width="0.18" textLength="17.06" lengthAdjust="spacingAndGlyphs" >HFD</text>
<text x="291.80" y="450.50" font-size="9.96" text-anchor="middle" fill="#262626" stroke="#262626" stroke-width="0.18" textLength="11.99" lengthAdjust="spacingAndGlyphs" >CD</text>
<text x="323.60" y="450.50" font-size="9.96" text-anchor="middle" fill="#262626" stroke="#262626" stroke-width="0.18" textLength="17.06" lengthAdjust="spacingAndGlyphs" >HFD</text>
<line x1="223.00" y1="454.00" x2="267.20" y2="454.00" stroke="#5a5a5a" stroke-width="1.5" />
<text x="245.10" y="462.20" font-size="9.96" text-anchor="middle" fill="#262626" stroke="#262626" stroke-width="0.18" textLength="36.8" lengthAdjust="spacingAndGlyphs" >0.5 pM TF</text>
<line x1="285.70" y1="454.00" x2="330.30" y2="454.00" stroke="#5a5a5a" stroke-width="1.5" />
<text x="308.00" y="462.20" font-size="9.96" text-anchor="middle" fill="#262626" stroke="#262626" stroke-width="0.18" textLength="30.2" lengthAdjust="spacingAndGlyphs" >2 pM TF</text>
<text x="18.20" y="237.60" font-size="10.56" text-anchor="middle" fill="#262626" stroke="#262626" stroke-width="0.18" textLength="37.4" lengthAdjust="spacingAndGlyphs" transform="rotate(-90 18.20 237.60)" >TG/PG ratio</text>
<text x="190.70" y="237.60" font-size="10.56" text-anchor="middle" fill="#262626" stroke="#262626" stroke-width="0.18" textLength="37.4" lengthAdjust="spacingAndGlyphs" transform="rotate(-90 190.70 237.60)" >TG/PG ratio</text>
<text x="361.00" y="237.60" font-size="10.56" text-anchor="middle" fill="#262626" stroke="#262626" stroke-width="0.18" textLength="37.4" lengthAdjust="spacingAndGlyphs" transform="rotate(-90 361.00 237.60)" >TG/PG ratio</text>
<text x="25.30" y="393.30" font-size="10.56" text-anchor="middle" fill="#262626" stroke="#262626" stroke-width="0.18" textLength="37.2" lengthAdjust="spacingAndGlyphs" transform="rotate(-90 25.30 393.30)" >TG/PG ratio</text>
<text x="189.60" y="393.90" font-size="10.56" text-anchor="middle" fill="#262626" stroke="#262626" stroke-width="0.18" textLength="37.2" lengthAdjust="spacingAndGlyphs" transform="rotate(-90 189.60 393.90)" >TG/PG ratio</text>
<text x="194.00" y="79.90" font-size="9.24" text-anchor="middle" fill="#262626" stroke="#262626" stroke-width="0.18" textLength="61.2" lengthAdjust="spacingAndGlyphs" transform="rotate(90 194.00 79.90)" >lysis (Abs 405 nm)</text>
<text x="413.00" y="79.90" font-size="9.24" text-anchor="middle" fill="#262626" stroke="#262626" stroke-width="0.18" textLength="61.2" lengthAdjust="spacingAndGlyphs" transform="rotate(90 413.00 79.90)" >lysis (Abs 405 nm)</text>
<rect x="0.5" y="0.5" width="519" height="470" fill="none" stroke="#000" stroke-width="1"/>
</svg>
</body></html>
